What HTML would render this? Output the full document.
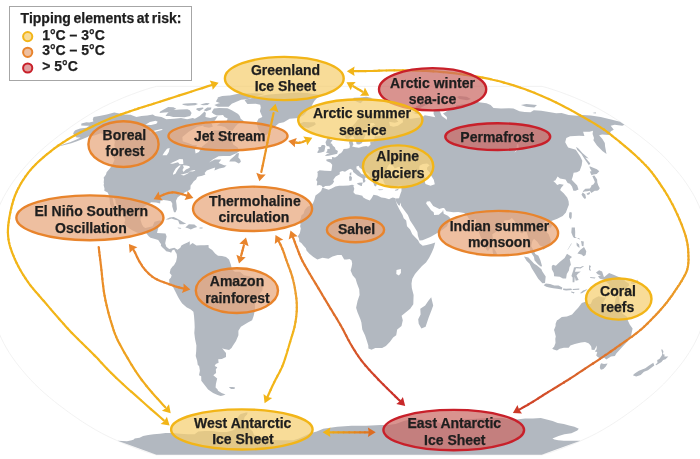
<!DOCTYPE html>
<html><head><meta charset="utf-8"><style>
html,body{margin:0;padding:0;background:#fff;width:700px;height:459px;overflow:hidden}
svg{position:absolute;left:0;top:0;display:block;will-change:transform}
.lb{font-family:"Liberation Sans",sans-serif;font-weight:bold;font-size:14px;fill:#1e1e1e;stroke:#1e1e1e;stroke-width:0.25px}
.lg{font-family:"Liberation Sans",sans-serif;font-weight:bold;font-size:14px;fill:#1e1e1e;stroke:#1e1e1e;stroke-width:0.25px}
.lt{word-spacing:-1.3px}
</style></head><body>
<svg width="700" height="459" viewBox="0 0 700 459">
<defs></defs>
<path d="M542.0,454.8 L547.3,453.4 L553.2,451.5 L559.8,449.2 L566.8,446.5 L574.2,443.6 L581.9,440.3 L589.4,436.9 L596.5,433.3 L603.2,429.6 L609.5,425.8 L615.5,422.0 L621.5,418.0 L627.2,414.0 L632.9,409.9 L638.5,405.7 L643.8,401.5 L649.1,397.2 L654.1,392.9 L659.0,388.5 L663.6,384.1 L667.8,379.7 L671.8,375.2 L675.7,370.7 L679.5,366.1 L683.0,361.6 L686.2,357.0 L689.2,352.5 L692.0,347.9 L694.6,343.3 L696.9,338.7 L699.0,334.1 L700.8,329.5 L702.4,324.9 L703.7,320.3 L705.0,315.7 L706.2,311.1 L707.3,306.5 L708.2,301.9 L709.1,297.3 L709.7,292.7 L710.3,288.1 L710.7,283.4 L711.0,278.8 L711.3,274.1 L711.4,269.3 L711.3,264.8 L711.0,260.3 L710.7,255.7 L710.3,251.2 L709.7,246.7 L709.1,242.1 L708.2,237.6 L707.3,233.0 L706.2,228.5 L705.0,224.0 L703.7,219.4 L702.4,214.9 L700.8,210.3 L699.0,205.8 L696.9,201.3 L694.6,196.7 L692.0,192.2 L689.2,187.7 L686.2,183.1 L683.0,178.6 L679.5,174.1 L675.7,169.6 L671.8,165.2 L667.8,160.7 L663.6,156.3 L659.0,152.0 L654.1,147.6 L649.1,143.3 L643.8,139.1 L638.5,134.9 L632.9,130.8 L627.2,126.7 L621.5,122.7 L615.5,118.8 L609.5,115.0 L603.2,111.3 L596.5,107.6 L589.4,104.1 L581.9,100.7 L574.2,97.4 L566.8,94.5 L559.8,91.9 L553.2,89.7 L547.3,87.8 L542.0,86.4 L156.4,86.4 L151.1,87.8 L145.1,89.7 L138.6,91.9 L131.5,94.5 L124.1,97.4 L116.5,100.7 L109.0,104.1 L101.8,107.6 L95.2,111.3 L88.9,115.0 L82.8,118.8 L76.9,122.7 L71.1,126.7 L65.5,130.8 L59.9,134.9 L54.5,139.1 L49.3,143.3 L44.2,147.6 L39.4,152.0 L34.8,156.3 L30.6,160.7 L26.5,165.2 L22.6,169.6 L18.9,174.1 L15.4,178.6 L12.1,183.1 L9.1,187.7 L6.4,192.2 L3.8,196.7 L1.5,201.3 L-0.6,205.8 L-2.4,210.3 L-4.0,214.9 L-5.3,219.4 L-6.6,224.0 L-7.8,228.5 L-8.9,233.0 L-9.9,237.6 L-10.7,242.1 L-11.4,246.7 L-11.9,251.2 L-12.3,255.7 L-12.7,260.3 L-12.9,264.8 L-13.0,269.3 L-12.9,274.1 L-12.7,278.8 L-12.3,283.4 L-11.9,288.1 L-11.4,292.7 L-10.7,297.3 L-9.9,301.9 L-8.9,306.5 L-7.8,311.1 L-6.6,315.7 L-5.3,320.3 L-4.0,324.9 L-2.4,329.5 L-0.6,334.1 L1.5,338.7 L3.8,343.3 L6.4,347.9 L9.1,352.5 L12.1,357.0 L15.4,361.6 L18.9,366.1 L22.6,370.7 L26.5,375.2 L30.6,379.7 L34.8,384.1 L39.4,388.5 L44.2,392.9 L49.3,397.2 L54.5,401.5 L59.9,405.7 L65.5,409.9 L71.1,414.0 L76.9,418.0 L82.8,422.0 L88.9,425.8 L95.2,429.6 L101.8,433.3 L109.0,436.9 L116.5,440.3 L124.1,443.6 L131.5,446.5 L138.6,449.2 L145.1,451.5 L151.1,453.4 L156.4,454.8Z" fill="#ffffff" stroke="#efefef" stroke-width="0.8"/>
<path d="M81.4,123.5 L86.4,122.2 L89.2,122.5 L93.4,121.6 L92.8,119.4 L93.6,117.1 L99.4,116.1 L106.7,114.4 L114.2,112.6 L119.6,113.5 L124.0,114.4 L130.7,114.8 L132.5,115.6 L136.4,117.1 L141.5,115.9 L147.3,115.4 L152.8,114.4 L155.1,116.1 L161.5,116.9 L166.3,119.2 L174.1,118.8 L181.0,117.9 L187.1,119.2 L192.8,117.9 L194.8,118.8 L199.7,115.9 L204.5,111.6 L205.9,113.1 L205.4,116.9 L210.4,117.9 L217.8,115.9 L214.8,120.8 L207.3,121.8 L202.7,125.7 L197.3,126.7 L188.7,131.8 L182.4,137.0 L182.7,141.2 L188.7,143.3 L192.7,145.1 L197.1,145.3 L195.0,149.8 L195.6,153.5 L198.9,152.0 L202.2,146.6 L207.7,142.3 L208.6,138.1 L212.0,133.9 L213.6,130.2 L219.7,130.4 L223.0,132.9 L223.0,137.0 L225.7,138.1 L231.4,134.9 L231.9,140.2 L233.2,144.4 L237.7,147.6 L239.3,151.3 L236.3,153.3 L230.1,155.9 L223.1,155.9 L218.6,156.3 L212.8,159.6 L209.0,162.5 L214.7,159.4 L221.3,159.6 L218.6,163.0 L224.1,165.2 L226.6,165.6 L224.2,167.4 L219.3,168.5 L214.4,170.5 L215.2,167.4 L212.1,168.5 L206.8,170.5 L204.6,173.0 L205.4,174.6 L202.2,175.7 L197.6,176.8 L197.0,177.5 L196.1,179.5 L193.8,181.3 L191.7,184.3 L190.6,185.6 L190.4,189.2 L188.1,190.8 L184.7,192.6 L181.7,194.5 L177.7,197.2 L176.0,200.8 L176.6,205.1 L176.9,209.2 L175.6,212.2 L174.0,212.2 L173.3,209.9 L172.2,206.3 L172.3,203.5 L170.9,201.3 L167.3,200.4 L163.5,200.1 L160.4,200.8 L160.1,203.5 L156.1,202.4 L151.3,202.2 L147.9,204.2 L143.7,206.9 L142.6,210.8 L141.4,214.9 L140.4,219.4 L142.0,224.4 L143.6,226.9 L145.4,228.0 L149.5,227.1 L152.6,226.2 L154.1,222.8 L154.6,221.7 L159.3,220.6 L161.6,221.0 L159.7,225.1 L158.3,227.8 L157.0,233.0 L161.6,233.3 L165.5,233.5 L166.6,236.4 L165.2,243.2 L166.3,246.7 L169.2,248.9 L172.2,248.2 L174.3,247.8 L177.5,249.8 L180.3,247.8 L181.4,245.5 L184.1,243.9 L187.6,242.6 L189.7,241.2 L189.9,244.4 L189.2,245.5 L192.6,243.0 L196.4,245.5 L200.4,245.3 L204.4,245.3 L208.5,245.1 L208.7,247.8 L212.2,250.1 L215.1,253.5 L218.0,255.7 L222.0,256.0 L226.0,256.9 L229.0,259.6 L230.9,264.8 L231.9,269.3 L234.9,271.8 L239.9,271.8 L244.0,275.3 L249.0,276.2 L254.1,277.6 L258.2,281.1 L261.8,282.3 L262.7,286.9 L262.4,290.4 L259.5,293.9 L256.7,299.2 L255.0,304.2 L254.9,310.0 L253.7,315.7 L252.1,320.3 L247.9,322.6 L244.6,324.5 L240.9,326.8 L238.4,330.7 L238.4,335.3 L236.0,341.0 L233.0,345.6 L231.5,347.9 L229.1,349.9 L224.1,349.0 L222.1,348.3 L226.0,353.1 L226.0,357.0 L221.8,359.1 L218.2,359.3 L218.6,362.7 L215.8,363.9 L214.7,366.1 L217.3,367.3 L215.8,369.5 L216.1,372.9 L213.3,375.2 L217.2,378.5 L215.9,384.1 L215.6,387.4 L217.6,389.4 L218.0,390.7 L221.6,392.9 L225.5,394.6 L222.9,395.5 L220.7,396.1 L217.6,395.1 L213.1,392.9 L208.1,389.6 L205.6,386.3 L201.3,380.8 L201.2,376.3 L199.0,375.2 L199.9,370.7 L199.1,366.1 L197.8,365.0 L197.1,360.5 L195.7,355.9 L196.2,351.3 L196.4,345.6 L195.0,338.7 L194.3,333.0 L194.7,327.2 L194.5,322.6 L194.0,315.7 L193.4,311.8 L190.8,309.5 L186.5,307.2 L182.2,303.5 L180.3,300.8 L178.2,297.3 L175.3,291.5 L173.0,286.9 L169.4,283.4 L169.1,279.5 L171.0,277.4 L171.6,275.3 L169.7,273.0 L170.5,269.3 L172.5,266.6 L174.0,265.3 L176.1,261.4 L177.0,256.9 L176.7,253.9 L175.6,252.3 L174.2,249.4 L172.1,250.5 L171.2,252.8 L169.6,251.9 L166.2,251.2 L164.9,249.8 L161.9,247.1 L160.8,245.5 L161.1,244.2 L158.2,240.1 L155.0,238.9 L150.5,237.8 L148.7,236.2 L146.1,233.0 L143.3,232.8 L140.6,233.7 L136.8,232.4 L132.2,230.3 L129.5,228.5 L125.9,225.8 L124.2,223.1 L125.2,220.6 L124.9,218.3 L123.6,216.7 L121.5,212.6 L119.6,209.7 L118.0,206.3 L115.7,203.5 L115.4,199.7 L112.9,197.4 L112.7,199.0 L113.5,202.4 L114.4,205.8 L115.5,209.2 L116.3,213.8 L116.8,217.4 L115.1,214.9 L113.2,213.1 L112.9,209.2 L111.0,206.3 L110.1,204.0 L109.7,200.6 L109.3,197.4 L109.0,195.6 L107.7,192.6 L104.3,190.8 L104.5,188.6 L103.6,184.9 L104.0,183.6 L103.7,182.5 L104.0,179.1 L103.6,177.7 L106.0,174.6 L106.6,172.3 L110.0,168.3 L112.5,164.5 L114.4,159.9 L115.5,156.3 L113.4,154.6 L114.6,152.0 L114.9,147.6 L114.3,145.5 L114.8,142.3 L114.2,138.7 L113.1,137.4 L111.0,135.5 L107.7,134.9 L103.5,134.3 L100.7,133.3 L95.1,135.3 L90.7,136.4 L93.6,133.5 L87.5,137.0 L82.7,139.1 L77.0,141.2 L71.3,143.3 L65.4,144.8 L60.6,146.1 L56.9,146.8 L63.6,144.2 L70.0,142.3 L76.5,139.5 L80.6,137.4 L76.5,137.4 L75.0,135.3 L73.1,133.9 L73.9,131.8 L75.3,130.2 L80.1,128.4 L86.3,127.7 L89.3,125.7 L85.9,125.7 L81.2,125.5Z M244.1,121.2 L238.0,123.7 L235.2,126.7 L232.4,130.8 L228.0,129.8 L224.9,127.1 L221.0,125.9 L216.7,125.5 L220.9,122.7 L226.8,120.8 L227.7,118.4 L224.4,116.9 L223.0,115.0 L216.9,115.4 L213.6,114.1 L211.7,112.2 L213.9,108.5 L219.3,108.0 L227.4,108.2 L231.3,110.0 L235.2,112.2 L238.1,114.1 L239.7,115.9 L240.7,118.8Z M168.2,112.4 L173.3,110.0 L180.0,109.6 L187.4,109.2 L189.8,110.2 L191.6,113.1 L190.2,115.9 L184.5,117.3 L178.8,117.1 L173.2,116.9 L169.6,116.1 L165.5,115.9 L166.9,114.1Z M160.2,111.4 L168.2,107.1 L173.4,107.3 L176.3,108.7 L168.4,112.2 L164.4,112.6 L159.5,113.1Z M231.7,103.7 L241.1,99.8 L246.9,99.2 L252.9,97.1 L261.3,94.9 L264.9,93.8 L256.1,93.2 L246.2,93.4 L236.9,94.1 L228.7,95.7 L223.2,97.4 L217.7,98.2 L215.9,101.5 L220.4,103.2 L226.8,103.4Z M228.7,106.7 L232.3,103.2 L227.5,102.7 L219.0,103.2 L214.3,104.9 L217.8,106.7Z M182.0,104.1 L183.4,104.9 L187.6,105.8 L195.0,105.3 L198.0,104.1 L195.4,103.0 L189.9,103.2 L185.4,103.5Z M196.2,109.4 L199.2,111.3 L203.5,108.5 L203.1,107.6 L196.8,108.3Z M203.7,110.3 L206.2,111.3 L210.9,109.4 L211.4,107.6 L207.2,107.6Z M203.1,105.3 L207.6,104.9 L209.8,103.2 L206.0,103.0 L200.2,104.4Z M225.3,98.2 L231.0,96.7 L229.1,95.4 L222.2,95.9 L217.5,97.4 L219.1,99.0Z M203.5,126.7 L209.0,127.7 L212.8,126.7 L211.9,123.7 L208.4,122.3 L203.5,124.7Z M244.6,100.2 L247.4,104.1 L255.7,103.7 L260.2,104.8 L260.8,107.6 L259.9,111.3 L261.1,114.1 L262.4,116.9 L258.5,118.8 L256.5,122.7 L257.6,126.7 L258.9,130.8 L261.8,133.3 L265.0,135.3 L266.8,134.7 L269.5,131.8 L273.4,127.7 L278.9,123.3 L283.8,122.3 L289.6,118.8 L298.7,117.9 L303.9,115.0 L306.2,112.2 L307.7,109.4 L311.3,106.7 L313.0,103.2 L314.5,100.7 L317.6,97.4 L323.2,95.2 L315.1,94.2 L307.3,92.9 L298.2,92.4 L289.6,92.9 L279.3,93.8 L269.0,94.5 L263.2,95.5 L258.8,96.2 L255.2,97.3 L248.7,98.7Z M299.3,123.7 L303.6,122.0 L309.5,122.3 L314.8,122.3 L315.9,124.3 L313.3,126.1 L308.3,127.9 L304.6,127.3 L301.5,127.1 L302.6,125.7 L299.8,124.9Z M229.2,161.6 L235.1,161.6 L238.9,163.6 L240.9,161.8 L240.2,159.6 L238.3,157.4 L239.0,153.1 L236.6,153.5 L234.4,155.9 L230.4,159.6Z M165.6,219.6 L169.7,217.4 L173.7,216.9 L176.4,218.3 L180.1,220.3 L183.8,222.4 L186.2,223.5 L183.5,224.2 L179.6,224.2 L178.1,220.6 L174.3,219.4 L171.5,218.5 L168.4,219.4Z M185.3,227.6 L188.9,224.2 L194.4,224.6 L197.2,227.1 L194.0,228.0 L190.8,229.4 L188.0,228.3Z M177.6,227.6 L181.5,228.0 L180.4,228.7 L178.1,228.3Z M199.6,227.4 L202.7,227.6 L202.4,228.5 L199.5,228.5Z M112.0,154.6 L116.0,155.7 L116.7,159.9 L114.7,159.4 L112.6,156.8Z M322.9,187.7 L321.7,185.8 L319.7,184.9 L316.8,185.4 L317.3,181.6 L316.1,180.0 L317.6,176.4 L317.7,173.0 L317.1,171.9 L319.6,170.3 L325.0,170.8 L330.4,171.0 L331.4,170.8 L332.1,166.3 L332.2,164.7 L330.5,162.7 L326.5,161.0 L326.3,159.6 L329.3,159.0 L332.1,159.2 L331.9,157.0 L335.0,157.4 L337.5,155.9 L339.1,153.9 L341.1,153.1 L342.7,150.9 L343.6,149.1 L347.0,148.7 L349.5,148.1 L349.9,145.5 L348.9,142.3 L349.7,141.0 L352.8,139.7 L352.7,142.3 L353.4,144.4 L352.1,146.6 L355.4,147.2 L358.9,147.8 L363.0,146.6 L366.4,145.9 L368.1,146.8 L370.5,144.8 L370.2,141.6 L373.5,141.2 L375.5,140.2 L374.0,138.1 L375.4,136.2 L381.0,136.0 L384.4,135.1 L381.5,133.9 L376.8,134.3 L372.0,134.9 L370.1,131.8 L369.3,128.8 L372.5,125.7 L375.2,124.7 L373.7,123.1 L370.7,123.1 L369.0,125.5 L366.6,127.7 L364.4,129.8 L363.5,132.9 L365.7,134.5 L364.9,136.4 L362.7,141.2 L362.0,142.9 L359.2,144.4 L356.7,144.2 L356.2,142.3 L354.9,139.7 L353.9,137.2 L352.7,136.0 L351.1,137.0 L348.7,138.9 L346.2,138.9 L344.8,137.0 L343.9,133.9 L344.0,131.0 L346.4,129.6 L349.5,127.7 L352.6,125.7 L355.5,122.7 L357.7,119.8 L359.8,117.9 L363.3,115.6 L367.5,114.6 L371.6,113.1 L374.2,112.9 L377.3,113.1 L381.9,114.4 L385.2,116.1 L389.7,116.9 L396.2,119.2 L398.4,121.8 L394.9,122.7 L389.1,121.8 L389.9,125.7 L393.5,126.7 L397.9,125.7 L403.0,122.2 L402.5,118.1 L410.9,118.8 L416.4,117.9 L422.1,117.3 L424.8,115.2 L430.4,116.3 L435.3,117.3 L433.6,114.1 L433.7,109.8 L436.3,109.1 L439.8,111.3 L441.8,115.9 L447.0,119.8 L446.8,116.9 L443.0,113.5 L445.3,112.2 L447.7,110.5 L449.4,108.3 L456.0,107.6 L455.8,105.8 L461.4,104.6 L466.0,103.9 L470.6,103.2 L473.9,101.2 L478.9,102.3 L486.5,103.2 L490.6,104.9 L493.5,108.0 L501.0,108.5 L509.1,108.3 L513.4,108.5 L519.5,111.3 L524.6,112.0 L530.5,112.2 L533.8,110.3 L541.3,110.7 L550.4,112.2 L556.2,113.3 L561.6,113.1 L568.6,115.0 L576.9,115.8 L583.0,115.0 L590.8,115.4 L600.7,117.1 L612.1,119.8 L620.0,121.8 L624.4,124.7 L622.3,125.7 L614.7,124.7 L610.7,125.7 L613.8,129.8 L610.9,131.2 L609.0,134.9 L602.1,134.5 L599.1,135.3 L602.4,139.1 L604.8,142.9 L605.1,146.6 L605.7,149.8 L606.5,154.1 L602.4,150.9 L597.0,145.5 L593.4,140.2 L594.0,138.1 L592.6,133.9 L593.0,130.8 L589.5,131.8 L583.1,131.8 L584.4,136.0 L579.1,135.8 L570.1,136.2 L566.3,138.1 L565.2,142.3 L568.1,147.6 L575.8,149.8 L580.1,156.3 L582.3,160.7 L581.7,165.2 L579.7,170.8 L577.0,172.3 L573.6,172.8 L572.8,176.4 L571.7,179.7 L577.2,185.4 L578.5,189.5 L575.7,190.8 L573.4,190.8 L572.0,186.5 L569.9,183.8 L567.7,183.1 L565.5,179.5 L560.0,178.6 L557.6,176.6 L555.3,180.4 L553.3,180.9 L555.5,183.1 L557.2,184.9 L559.7,184.0 L563.7,184.7 L561.2,187.7 L560.1,189.9 L563.7,193.3 L567.2,197.4 L568.6,201.3 L568.9,204.7 L567.1,209.2 L565.9,212.6 L562.7,216.0 L557.3,218.7 L552.6,220.6 L549.9,221.7 L550.9,223.3 L548.7,220.6 L545.7,220.6 L543.2,223.5 L542.2,226.2 L544.1,229.6 L548.7,234.2 L550.7,239.8 L550.6,243.2 L547.8,245.5 L546.0,247.8 L543.1,249.8 L542.9,246.7 L539.8,245.5 L537.5,242.1 L534.0,238.7 L532.4,241.0 L531.2,246.2 L533.7,250.5 L535.3,253.9 L538.4,255.7 L540.4,260.3 L542.1,266.2 L540.7,266.4 L537.7,264.1 L534.5,260.3 L534.0,256.9 L530.1,251.2 L529.5,246.7 L529.7,242.1 L526.7,231.9 L524.4,231.2 L522.1,233.5 L520.2,232.6 L520.0,227.4 L516.6,224.0 L514.2,220.6 L511.9,218.1 L509.2,219.9 L504.3,220.6 L503.8,224.0 L501.0,225.5 L498.3,228.5 L496.1,231.7 L492.3,234.2 L493.0,239.6 L492.3,244.4 L491.4,246.0 L489.3,249.1 L488.0,251.0 L485.9,248.9 L484.2,243.2 L482.0,239.8 L479.6,234.2 L477.1,226.5 L476.3,221.7 L475.8,219.0 L471.0,222.1 L468.7,218.5 L467.4,216.0 L464.2,213.1 L458.2,211.9 L453.3,212.2 L446.4,211.3 L444.1,208.1 L442.7,207.9 L439.3,209.0 L433.2,206.0 L429.9,201.3 L426.9,201.5 L426.1,203.5 L429.5,208.1 L431.0,210.3 L433.7,212.2 L434.1,214.9 L438.8,214.7 L442.5,211.5 L443.1,209.7 L443.7,213.8 L447.8,215.8 L450.5,218.3 L448.3,222.8 L447.0,226.2 L442.9,229.6 L436.5,233.5 L430.4,237.1 L422.5,240.3 L419.5,240.5 L417.9,235.8 L417.4,231.9 L413.9,226.2 L410.1,220.6 L407.9,214.9 L404.3,210.3 L401.1,205.8 L400.8,202.4 L399.5,205.8 L398.3,205.1 L396.1,201.5 L395.6,198.5 L399.0,198.3 L400.2,194.5 L401.5,191.1 L401.5,187.7 L401.7,185.8 L398.5,185.8 L394.9,187.4 L391.0,186.5 L386.3,185.8 L384.2,183.1 L383.0,179.7 L382.3,177.9 L381.9,176.8 L378.2,176.8 L376.4,177.9 L375.6,177.5 L376.4,180.2 L378.6,182.7 L376.8,184.3 L376.0,186.5 L374.4,185.8 L373.6,183.6 L372.9,182.0 L371.3,179.7 L369.9,177.5 L369.6,174.6 L367.9,173.0 L365.0,171.4 L361.7,169.2 L359.5,167.4 L358.7,165.8 L356.4,166.5 L356.6,169.0 L358.8,170.8 L361.5,174.1 L363.7,174.6 L367.1,177.3 L368.1,178.4 L365.5,177.5 L364.6,179.1 L365.6,180.9 L363.8,183.1 L363.0,182.0 L362.7,178.6 L360.5,177.3 L357.8,175.7 L355.1,173.4 L353.2,171.9 L352.6,169.9 L350.1,168.7 L347.7,170.1 L345.0,171.7 L342.3,171.0 L339.7,171.9 L339.8,174.3 L335.7,176.4 L334.2,178.6 L333.2,180.0 L334.1,181.6 L332.5,184.0 L329.8,185.8 L325.3,186.1Z M395.4,198.3 L392.8,197.6 L390.9,198.3 L389.1,199.2 L385.1,198.1 L381.3,197.6 L377.3,195.6 L373.5,194.7 L371.7,197.9 L369.8,200.6 L365.9,199.0 L363.0,197.2 L362.4,195.8 L358.2,194.7 L355.3,194.2 L353.4,192.2 L354.3,188.8 L353.3,185.8 L354.5,185.2 L352.0,184.7 L348.6,185.6 L343.0,185.8 L339.2,185.8 L335.4,186.5 L331.6,188.6 L328.7,189.7 L323.5,187.9 L322.2,188.1 L321.1,191.1 L318.9,193.1 L315.5,195.6 L314.3,200.1 L312.8,203.5 L309.7,205.8 L307.4,206.7 L304.7,209.9 L303.5,213.8 L301.5,215.3 L300.8,218.3 L299.3,221.7 L300.6,224.0 L300.1,226.2 L300.8,228.5 L299.9,233.0 L298.4,235.5 L297.8,236.0 L299.1,238.7 L299.2,241.4 L301.6,243.2 L303.1,245.3 L305.9,248.2 L306.5,250.5 L309.4,253.7 L313.4,256.9 L317.4,259.4 L322.5,257.8 L328.5,258.7 L332.5,256.4 L337.5,255.0 L341.6,255.0 L344.2,259.6 L346.6,259.4 L349.6,258.9 L351.6,260.5 L352.2,263.7 L351.6,267.1 L350.6,270.6 L352.6,275.3 L355.6,278.8 L357.0,283.4 L359.2,289.2 L359.6,295.0 L357.6,300.8 L356.1,307.7 L357.5,312.3 L360.4,319.2 L361.4,322.6 L362.3,329.5 L365.1,335.5 L366.9,341.0 L368.3,345.6 L368.4,348.6 L370.5,349.3 L371.4,349.7 L375.3,347.9 L382.1,347.9 L385.9,346.0 L390.0,341.7 L393.1,337.6 L396.2,335.3 L397.2,329.5 L401.5,326.1 L402.8,320.3 L401.6,315.7 L405.0,313.0 L410.2,308.8 L413.3,304.2 L413.6,295.0 L411.8,288.1 L411.5,283.4 L412.3,278.8 L415.0,274.1 L418.0,270.6 L422.0,265.9 L426.0,262.5 L429.0,258.0 L431.9,252.3 L433.8,247.8 L435.2,242.6 L431.6,243.7 L426.7,245.1 L422.7,245.7 L419.6,243.2 L418.1,240.3 L415.4,237.6 L412.3,234.2 L410.1,229.6 L407.0,226.2 L406.2,220.6 L403.7,218.3 L402.6,214.9 L399.3,209.2 L397.1,204.7 L395.9,201.3Z M431.2,297.3 L433.2,305.4 L431.6,310.0 L428.5,318.0 L425.6,326.8 L421.4,328.4 L418.7,323.8 L418.2,319.2 L420.6,314.6 L420.3,308.8 L425.2,305.4 L428.4,300.8Z M492.6,247.1 L495.0,250.1 L496.9,253.5 L496.2,255.5 L494.2,256.0 L492.9,253.5 L492.6,250.5Z M324.8,156.1 L328.6,155.7 L333.0,154.8 L337.2,153.7 L337.9,150.9 L335.5,149.4 L335.0,147.6 L332.7,145.5 L332.0,143.8 L330.4,143.3 L332.0,141.0 L332.6,139.9 L329.8,139.7 L330.8,137.8 L327.5,137.8 L326.5,140.2 L325.5,142.3 L326.1,144.4 L326.8,145.9 L329.3,146.6 L330.0,148.7 L327.4,149.1 L327.2,151.3 L325.7,152.4 L327.9,153.1 L329.7,153.3 L327.0,154.1Z M324.3,151.5 L324.9,148.7 L325.4,146.3 L324.4,145.1 L321.8,145.1 L320.8,147.0 L318.2,147.2 L318.8,149.8 L317.1,152.4 L318.4,153.1 L321.1,152.4Z M356.9,183.6 L358.9,182.7 L362.8,182.5 L362.0,184.7 L362.0,186.1 L360.5,185.8 L357.6,184.3Z M349.4,180.9 L351.6,180.4 L352.0,177.5 L350.8,175.9 L349.0,176.6Z M349.7,175.5 L351.2,175.2 L351.4,172.3 L349.7,173.0Z M378.0,189.2 L383.3,189.5 L382.8,189.9 L379.0,190.2Z M394.7,189.9 L399.0,188.6 L397.8,190.2 L395.6,190.8Z M352.7,99.8 L358.0,102.3 L360.7,103.2 L363.0,100.7 L366.8,100.0 L372.8,98.2 L366.2,96.7 L360.1,97.4 L353.8,97.8Z M411.2,112.2 L416.2,113.9 L419.7,113.7 L416.1,110.3 L415.6,106.7 L420.9,104.1 L427.6,102.3 L429.6,103.2 L424.6,105.8 L419.3,108.5 L417.2,111.3 L414.3,112.7Z M459.4,99.0 L467.1,100.2 L470.9,99.0 L466.6,96.7 L459.5,95.9 L457.0,97.0Z M520.9,104.9 L526.3,104.1 L537.0,104.9 L534.3,107.6 L526.2,106.7Z M592.4,113.1 L595.8,112.2 L595.8,113.5Z M582.7,192.2 L584.5,191.5 L587.3,191.3 L589.9,190.8 L591.2,192.9 L593.6,191.5 L594.7,190.8 L597.1,190.8 L598.6,189.9 L599.8,188.3 L598.3,185.6 L597.3,182.5 L597.1,179.5 L594.4,175.5 L592.3,175.9 L593.4,178.6 L594.9,182.0 L593.6,184.3 L591.3,185.4 L591.2,186.5 L589.9,188.6 L585.3,188.8 L583.3,190.8Z M591.5,175.2 L593.3,174.6 L596.7,174.1 L599.3,171.2 L596.9,169.2 L589.6,166.3 L589.6,167.4 L591.6,171.2 L589.8,171.4Z M581.5,194.5 L582.8,192.4 L585.3,194.5 L586.0,197.9 L584.9,199.0 L583.3,197.4 L581.7,195.1Z M586.4,193.8 L589.8,192.0 L589.9,194.0 L587.8,194.9Z M588.9,165.2 L590.3,163.4 L585.3,157.4 L588.7,158.5 L582.4,153.1 L578.7,148.7 L576.0,146.8 L577.2,149.8 L581.4,154.1 L584.9,159.6 L588.1,164.1Z M569.7,211.9 L571.8,212.6 L571.7,217.2 L570.8,219.6 L569.0,217.2 L569.1,213.8Z M547.7,225.8 L550.2,223.7 L552.3,224.9 L550.8,227.8 L548.1,227.4Z M571.7,227.4 L574.9,227.4 L575.2,231.9 L575.1,236.9 L580.3,239.8 L579.0,238.0 L574.1,238.0 L572.9,236.4 L571.3,232.6Z M577.4,253.5 L580.2,250.1 L584.0,247.1 L586.3,251.2 L585.6,255.0 L583.6,256.2 L581.5,254.6Z M581.0,241.0 L583.8,241.4 L583.5,246.2 L581.9,246.0Z M576.6,242.6 L579.1,244.4 L579.6,247.8 L578.0,247.1 L576.6,245.3Z M567.6,250.3 L571.8,243.5 L571.2,243.5 L567.7,249.4Z M551.8,265.9 L553.0,264.8 L555.8,265.7 L559.7,262.1 L564.6,258.0 L567.0,253.7 L572.0,257.1 L569.7,259.1 L570.9,264.8 L569.5,267.1 L568.9,270.6 L566.8,274.1 L566.1,278.6 L562.9,278.6 L559.7,276.7 L556.7,276.5 L554.1,276.2 L553.8,273.0 L551.8,269.3Z M524.0,256.6 L528.4,257.5 L534.2,263.7 L536.7,265.3 L541.4,269.3 L542.5,271.8 L545.7,276.5 L545.0,283.0 L542.4,283.2 L538.2,278.8 L535.3,274.1 L531.7,268.2 L529.6,263.7 L526.5,260.7Z M543.7,285.3 L545.8,283.4 L550.0,284.1 L554.4,285.5 L558.6,285.5 L562.3,287.4 L561.9,289.5 L557.2,288.8 L553.2,288.3 L549.2,287.6 L546.3,286.7Z M572.6,282.3 L572.6,277.6 L571.4,276.0 L573.6,269.3 L573.9,267.5 L576.9,267.1 L580.0,267.3 L583.0,265.9 L584.0,266.2 L580.6,268.4 L576.0,268.2 L574.9,271.8 L576.9,271.8 L580.8,271.5 L577.9,273.7 L576.5,275.5 L578.7,280.0 L575.7,280.7 L574.8,276.5 L574.4,282.3Z M589.0,265.3 L591.0,265.9 L590.0,268.2 L591.0,271.1 L589.0,270.1Z M589.9,276.9 L595.5,277.4 L594.9,278.6 L590.5,277.9Z M596.0,272.5 L599.1,270.3 L602.1,271.5 L604.0,277.2 L609.1,273.0 L614.1,275.1 L618.1,276.7 L623.0,278.6 L625.5,281.6 L628.8,283.4 L629.2,285.5 L626.5,287.4 L629.7,289.2 L632.1,291.5 L633.9,293.9 L630.9,293.4 L627.0,292.7 L623.4,287.8 L620.4,288.5 L618.2,290.9 L615.2,290.6 L611.4,288.3 L609.3,288.8 L609.2,284.6 L603.9,279.7 L599.9,278.8 L598.0,276.2 L601.0,275.3 L598.0,274.6Z M630.9,282.3 L634.9,282.3 L638.0,279.5 L636.9,282.3 L633.7,284.1 L630.8,283.4Z M557.0,320.3 L557.8,319.9 L561.8,317.1 L566.9,316.4 L572.1,314.6 L575.1,311.1 L578.2,307.7 L581.8,303.1 L586.0,301.5 L588.1,304.2 L590.7,304.0 L592.7,299.4 L595.5,297.8 L598.6,296.2 L602.5,297.3 L606.0,297.8 L604.1,300.8 L602.6,304.2 L606.1,307.0 L609.2,309.8 L612.2,309.8 L614.5,304.2 L615.6,298.5 L617.8,294.3 L619.4,298.5 L619.4,302.4 L622.1,304.2 L621.8,308.4 L622.4,313.4 L626.7,316.4 L628.1,321.0 L629.7,324.5 L632.6,328.4 L631.1,335.5 L627.8,341.0 L621.8,347.4 L616.3,353.6 L614.9,355.9 L611.0,356.6 L606.3,359.5 L604.3,357.7 L601.4,358.9 L597.7,357.0 L596.2,355.4 L597.3,352.0 L594.8,351.5 L596.6,349.3 L596.8,345.6 L594.4,349.9 L591.6,349.7 L591.3,346.7 L590.2,344.9 L588.5,343.3 L585.0,342.1 L581.0,342.6 L574.8,344.0 L570.4,345.6 L568.7,347.7 L563.9,347.7 L559.7,348.8 L557.0,350.4 L553.6,349.5 L552.2,348.6 L554.1,346.7 L555.5,343.1 L555.3,338.7 L555.8,336.4 L554.4,330.9 L554.0,330.0 L555.6,326.1 L555.6,323.8Z M601.1,363.2 L604.0,364.1 L607.6,363.6 L605.8,366.6 L603.4,368.9 L601.0,369.8 L599.8,368.0 L600.2,365.0Z M661.8,348.8 L663.4,351.3 L663.0,354.3 L664.6,354.5 L664.4,356.6 L668.3,356.4 L665.5,359.3 L663.1,360.0 L661.5,362.1 L656.1,365.2 L655.5,364.6 L657.5,362.7 L657.2,360.0 L659.4,358.9 L661.8,355.4 L662.3,353.4 L661.4,350.6Z M653.3,362.7 L654.3,365.5 L651.0,368.0 L648.0,370.2 L644.0,371.8 L640.7,375.0 L636.2,376.5 L632.8,375.2 L634.7,373.4 L638.9,370.7 L645.3,368.2 L649.1,365.5Z M228.8,387.0 L232.8,387.0 L235.1,387.6 L234.4,389.0 L231.0,389.0Z M117.7,440.8 L127.0,441.2 L131.7,440.3 L133.8,439.5 L134.7,438.6 L139.6,437.7 L143.1,436.0 L148.3,435.1 L153.7,434.2 L159.9,433.8 L165.5,432.9 L172.4,432.9 L180.2,433.7 L187.8,434.2 L194.6,434.2 L198.3,431.5 L204.9,431.1 L211.9,431.1 L219.8,432.0 L226.7,432.0 L232.4,430.5 L235.2,428.7 L236.0,425.8 L236.3,422.0 L236.7,419.0 L238.7,416.0 L240.6,414.0 L246.0,412.6 L247.6,412.6 L247.1,414.6 L244.6,417.0 L244.0,420.0 L244.1,423.9 L248.7,427.7 L252.7,431.5 L254.0,435.1 L257.3,436.0 L266.0,438.6 L273.6,440.0 L280.3,440.3 L286.8,440.3 L293.2,440.3 L298.9,438.6 L304.4,436.0 L310.3,433.3 L316.7,431.5 L323.2,428.7 L330.2,427.7 L337.3,426.8 L351.6,425.8 L366.1,425.8 L380.8,424.9 L388.0,424.9 L395.6,423.9 L403.8,421.0 L411.9,419.0 L419.4,419.0 L426.4,420.4 L433.6,421.0 L440.0,422.9 L441.8,424.9 L446.2,424.9 L451.7,422.9 L455.9,421.0 L464.2,419.6 L472.1,419.0 L480.1,418.4 L487.9,418.0 L495.5,418.0 L503.0,418.0 L509.2,419.6 L516.7,419.6 L525.1,418.6 L532.9,418.4 L540.8,418.0 L546.7,419.6 L552.6,421.0 L557.7,422.9 L563.8,423.9 L569.1,425.5 L574.4,426.8 L578.8,428.7 L577.3,430.5 L571.4,433.3 L564.4,434.2 L558.6,436.0 L552.4,438.6 L554.4,439.6 L558.2,440.3 L564.0,440.7 L570.0,440.8 L580.4,440.8 L541.7,454.8 L156.4,454.8Z M563.2,288.5 L566.2,288.8 L571.2,288.5 L572.1,289.9 L566.1,290.4 L563.1,289.9Z M572.8,289.0 L579.3,288.5 L579.2,289.7 L572.7,289.9Z M579.9,293.2 L583.1,290.4 L587.6,289.0 L586.1,290.4 L581.9,293.2Z M571.0,291.5 L574.6,292.2 L573.9,293.4 L571.3,292.5Z" fill="#b2b8c0"/>
<path d="M385.4,175.0 L386.1,170.8 L387.4,167.0 L389.4,164.1 L392.6,165.2 L394.8,168.5 L398.2,167.0 L401.9,167.8 L406.0,170.8 L410.2,175.0 L404.0,176.4 L398.2,174.1 L391.9,175.9 L387.7,175.9Z M419.2,168.5 L419.6,165.8 L422.8,164.1 L427.1,163.4 L429.7,165.2 L427.1,167.4 L427.0,169.6 L430.1,173.0 L431.7,176.4 L433.8,179.7 L434.8,184.3 L430.5,185.8 L425.5,184.0 L424.7,181.3 L425.5,178.2 L423.0,174.6 L420.7,171.9Z M170.0,163.6 L176.1,160.7 L179.6,159.0 L183.0,159.2 L183.3,163.0 L183.4,164.1 L179.7,164.3 L178.0,162.3 L172.7,163.8Z M172.9,174.1 L173.1,174.8 L175.4,173.7 L177.8,169.6 L180.8,165.6 L182.2,165.4 L179.2,165.4 L175.7,168.5 L173.7,171.9Z M182.8,165.2 L186.3,165.4 L189.5,166.3 L189.8,167.8 L185.9,169.6 L183.5,171.9 L182.5,170.1 L183.8,167.4Z M180.5,174.8 L185.6,173.4 L189.7,172.3 L187.8,173.4 L183.9,175.5Z M188.7,171.2 L194.4,169.9 L195.5,170.5 L192.8,171.4Z M162.5,155.2 L166.8,155.2 L168.8,152.0 L169.7,148.1 L167.0,148.7 L164.5,152.0Z M150.1,132.4 L155.5,131.8 L162.9,129.8 L161.3,129.0 L154.1,130.8 L150.1,131.6Z M145.4,124.7 L151.1,125.1 L156.4,123.7 L157.7,121.8 L155.7,120.8 L149.9,122.0Z M396.5,269.9 L400.9,268.9 L400.9,273.0 L398.9,275.5 L396.3,274.1Z M514.1,152.8 L516.1,151.3 L518.9,147.6 L518.2,144.0 L516.8,144.4 L516.6,149.4 L514.8,152.0Z" fill="#ffffff"/>
<path d="M352.6,71.2 L354.5,71.2 L356.5,71.1 L358.7,71.1" fill="none" stroke="#f2b518" stroke-width="2.2" stroke-linecap="round"/>
<path d="M358.7,71.1 L360.9,71.1 L363.2,71.1 L365.5,71.1" fill="none" stroke="#f2b518" stroke-width="2.2" stroke-linecap="round"/>
<path d="M365.5,71.1 L367.8,71.0 L370.0,71.0 L372.2,71.0" fill="none" stroke="#f2b518" stroke-width="2.2" stroke-linecap="round"/>
<path d="M372.2,71.0 L374.5,70.9 L376.8,70.8 L379.1,70.7" fill="none" stroke="#f2b518" stroke-width="2.2" stroke-linecap="round"/>
<path d="M379.1,70.7 L381.5,70.6 L383.9,70.5 L386.4,70.5" fill="none" stroke="#f2b518" stroke-width="2.2" stroke-linecap="round"/>
<path d="M386.4,70.5 L389.0,70.4 L391.6,70.3 L394.3,70.3" fill="none" stroke="#f2b518" stroke-width="2.2" stroke-linecap="round"/>
<path d="M394.3,70.3 L397.1,70.3 L400.0,70.3 L403.0,70.3" fill="none" stroke="#f2b518" stroke-width="2.2" stroke-linecap="round"/>
<path d="M403.0,70.3 L406.1,70.4 L409.3,70.4 L412.6,70.5" fill="none" stroke="#f2b518" stroke-width="2.2" stroke-linecap="round"/>
<path d="M412.6,70.5 L416.0,70.6 L419.4,70.7 L422.8,70.8" fill="none" stroke="#f2b518" stroke-width="2.2" stroke-linecap="round"/>
<path d="M422.8,70.8 L426.3,70.9 L429.8,71.1 L433.2,71.3" fill="none" stroke="#f2b518" stroke-width="2.2" stroke-linecap="round"/>
<path d="M433.2,71.3 L436.6,71.5 L440.0,71.8 L443.4,72.1" fill="none" stroke="#f2b518" stroke-width="2.2" stroke-linecap="round"/>
<path d="M443.4,72.1 L446.8,72.4 L450.3,72.8 L453.8,73.2" fill="none" stroke="#f2b518" stroke-width="2.2" stroke-linecap="round"/>
<path d="M453.8,73.2 L457.2,73.7 L460.7,74.1 L464.1,74.6" fill="none" stroke="#f2b518" stroke-width="2.2" stroke-linecap="round"/>
<path d="M464.1,74.6 L467.5,75.1 L470.8,75.6 L474.0,76.1" fill="none" stroke="#f2b518" stroke-width="2.2" stroke-linecap="round"/>
<path d="M474.0,76.1 L477.1,76.6 L480.0,77.1 L482.8,77.6" fill="none" stroke="#f2b518" stroke-width="2.2" stroke-linecap="round"/>
<path d="M482.8,77.6 L485.4,78.1 L488.0,78.6 L490.4,79.1" fill="none" stroke="#f2b518" stroke-width="2.2" stroke-linecap="round"/>
<path d="M490.4,79.1 L492.7,79.7 L495.0,80.2 L497.3,80.8" fill="none" stroke="#f2b518" stroke-width="2.2" stroke-linecap="round"/>
<path d="M497.3,80.8 L499.5,81.3 L501.7,81.9 L504.0,82.6" fill="none" stroke="#f2b518" stroke-width="2.2" stroke-linecap="round"/>
<path d="M504.0,82.6 L506.3,83.2 L508.6,83.9 L511.0,84.6 L513.4,85.3" fill="none" stroke="#f2b518" stroke-width="2.2" stroke-linecap="round"/>
<path d="M513.4,85.3 L515.7,86.1 L518.1,86.9 L520.5,87.7" fill="none" stroke="#f2b518" stroke-width="2.2" stroke-linecap="round"/>
<path d="M520.5,87.7 L522.9,88.5 L525.2,89.3 L527.6,90.2" fill="none" stroke="#f2b518" stroke-width="2.2" stroke-linecap="round"/>
<path d="M527.6,90.2 L530.0,91.1 L532.3,92.0 L534.7,92.9" fill="none" stroke="#f2b518" stroke-width="2.2" stroke-linecap="round"/>
<path d="M534.7,92.9 L537.1,93.9 L539.5,94.9 L541.8,95.9" fill="none" stroke="#f2b518" stroke-width="2.2" stroke-linecap="round"/>
<path d="M541.8,95.9 L544.1,96.9 L546.4,97.9 L548.7,99.0" fill="none" stroke="#f2b518" stroke-width="2.2" stroke-linecap="round"/>
<path d="M548.7,99.0 L551.0,100.0 L553.4,101.2 L555.7,102.3" fill="none" stroke="#f2b518" stroke-width="2.2" stroke-linecap="round"/>
<path d="M555.7,102.3 L558.1,103.5 L560.6,104.8 L563.1,106.1" fill="none" stroke="#f2b518" stroke-width="2.2" stroke-linecap="round"/>
<path d="M563.1,106.1 L565.7,107.4 L568.4,108.8 L571.3,110.4" fill="none" stroke="#f2b518" stroke-width="2.2" stroke-linecap="round"/>
<path d="M571.3,110.4 L574.3,112.0 L577.3,113.7 L580.4,115.5" fill="none" stroke="#f2b518" stroke-width="2.2" stroke-linecap="round"/>
<path d="M580.4,115.5 L583.5,117.2 L586.6,119.0 L589.6,120.7" fill="none" stroke="#f2b518" stroke-width="2.2" stroke-linecap="round"/>
<path d="M589.6,120.7 L592.5,122.4 L595.2,124.0 L597.7,125.6" fill="none" stroke="#f2b518" stroke-width="2.2" stroke-linecap="round"/>
<path d="M597.7,125.6 L600.0,127.0 L602.0,128.3 L603.9,129.5" fill="none" stroke="#f2b518" stroke-width="2.2" stroke-linecap="round"/>
<path d="M603.9,129.5 L605.5,130.7 L607.1,131.8 L608.4,132.8" fill="none" stroke="#f2b518" stroke-width="2.2" stroke-linecap="round"/>
<path d="M608.4,132.8 L609.8,133.8 L611.0,134.8 L612.2,135.8" fill="none" stroke="#f2b518" stroke-width="2.2" stroke-linecap="round"/>
<path d="M612.2,135.8 L613.4,136.8 L614.7,137.8 L616.0,138.9" fill="none" stroke="#f2b518" stroke-width="2.2" stroke-linecap="round"/>
<path d="M616.0,138.9 L617.4,140.0 L618.9,141.2 L620.3,142.4" fill="none" stroke="#f2b518" stroke-width="2.2" stroke-linecap="round"/>
<path d="M620.3,142.4 L621.8,143.6 L623.3,144.8 L624.8,146.1" fill="none" stroke="#f2b518" stroke-width="2.2" stroke-linecap="round"/>
<path d="M624.8,146.1 L626.3,147.3 L627.8,148.6 L629.3,149.9 L630.7,151.1" fill="none" stroke="#f2b518" stroke-width="2.2" stroke-linecap="round"/>
<path d="M630.7,151.1 L632.1,152.4 L633.5,153.6 L634.8,154.8" fill="none" stroke="#f2b518" stroke-width="2.2" stroke-linecap="round"/>
<path d="M634.8,154.8 L636.1,156.0 L637.4,157.2 L638.6,158.4" fill="none" stroke="#f2b518" stroke-width="2.2" stroke-linecap="round"/>
<path d="M638.6,158.4 L639.9,159.5 L641.1,160.7 L642.2,161.9" fill="none" stroke="#f2b518" stroke-width="2.2" stroke-linecap="round"/>
<path d="M642.2,161.9 L643.4,163.0 L644.5,164.2 L645.6,165.3" fill="none" stroke="#f2b518" stroke-width="2.2" stroke-linecap="round"/>
<path d="M645.6,165.3 L646.7,166.5 L647.8,167.6 L648.8,168.8" fill="none" stroke="#f2b518" stroke-width="2.2" stroke-linecap="round"/>
<path d="M648.8,168.8 L649.8,170.0 L650.7,171.1 L651.7,172.2" fill="none" stroke="#f2b518" stroke-width="2.2" stroke-linecap="round"/>
<path d="M651.7,172.2 L652.5,173.3 L653.4,174.5 L654.2,175.6" fill="none" stroke="#f2b518" stroke-width="2.2" stroke-linecap="round"/>
<path d="M654.2,175.6 L655.0,176.7 L655.9,177.9 L656.7,179.0" fill="none" stroke="#f2b518" stroke-width="2.2" stroke-linecap="round"/>
<path d="M656.7,179.0 L657.5,180.2 L658.3,181.4 L659.2,182.7" fill="none" stroke="#f2b518" stroke-width="2.2" stroke-linecap="round"/>
<path d="M659.2,182.7 L660.1,184.0 L661.0,185.3 L661.8,186.6" fill="none" stroke="#f2b518" stroke-width="2.2" stroke-linecap="round"/>
<path d="M661.8,186.6 L662.7,187.9 L663.6,189.2 L664.5,190.6" fill="none" stroke="#f2b518" stroke-width="2.2" stroke-linecap="round"/>
<path d="M664.5,190.6 L665.4,192.0 L666.2,193.4 L667.1,194.8" fill="none" stroke="#f2b518" stroke-width="2.2" stroke-linecap="round"/>
<path d="M667.1,194.8 L668.0,196.3 L668.8,197.8 L669.7,199.3" fill="none" stroke="#f2b518" stroke-width="2.2" stroke-linecap="round"/>
<path d="M669.7,199.3 L670.6,200.9 L671.4,202.5 L672.3,204.1" fill="none" stroke="#f2b518" stroke-width="2.2" stroke-linecap="round"/>
<path d="M672.3,204.1 L673.2,205.8 L674.0,207.5 L674.9,209.3" fill="none" stroke="#f2b319" stroke-width="2.2" stroke-linecap="round"/>
<path d="M674.9,209.3 L675.7,211.0 L676.5,212.7 L677.4,214.5" fill="none" stroke="#f1b21a" stroke-width="2.2" stroke-linecap="round"/>
<path d="M677.4,214.5 L678.1,216.2 L678.9,217.9 L679.6,219.6" fill="none" stroke="#f1b01b" stroke-width="2.2" stroke-linecap="round"/>
<path d="M679.6,219.6 L680.3,221.3 L681.0,223.0 L681.7,224.6" fill="none" stroke="#f0af1c" stroke-width="2.2" stroke-linecap="round"/>
<path d="M681.7,224.6 L682.3,226.3 L682.9,228.0 L683.5,229.7 L684.1,231.3" fill="none" stroke="#f0ad1d" stroke-width="2.2" stroke-linecap="round"/>
<path d="M684.1,231.3 L684.7,233.0 L685.2,234.6 L685.7,236.2" fill="none" stroke="#f0ab1e" stroke-width="2.2" stroke-linecap="round"/>
<path d="M685.7,236.2 L686.1,237.7 L686.5,239.2 L686.8,240.7" fill="none" stroke="#efaa1e" stroke-width="2.2" stroke-linecap="round"/>
<path d="M686.8,240.7 L687.1,242.1 L687.4,243.4 L687.6,244.8" fill="none" stroke="#efa91f" stroke-width="2.2" stroke-linecap="round"/>
<path d="M687.6,244.8 L687.8,246.1 L687.9,247.4 L688.1,248.7" fill="none" stroke="#efa820" stroke-width="2.2" stroke-linecap="round"/>
<path d="M688.1,248.7 L688.2,250.0 L688.2,251.2 L688.3,252.4" fill="none" stroke="#eea720" stroke-width="2.2" stroke-linecap="round"/>
<path d="M688.3,252.4 L688.4,253.7 L688.4,254.9 L688.4,256.1" fill="none" stroke="#eea621" stroke-width="2.2" stroke-linecap="round"/>
<path d="M688.4,256.1 L688.5,257.3 L688.5,258.5 L688.5,259.7" fill="none" stroke="#eea522" stroke-width="2.2" stroke-linecap="round"/>
<path d="M688.5,259.7 L688.5,260.9 L688.4,262.0 L688.3,263.1" fill="none" stroke="#eea422" stroke-width="2.2" stroke-linecap="round"/>
<path d="M688.3,263.1 L688.2,264.3 L688.1,265.4 L687.9,266.5" fill="none" stroke="#eda323" stroke-width="2.2" stroke-linecap="round"/>
<path d="M687.9,266.5 L687.7,267.5 L687.5,268.6 L687.2,269.6" fill="none" stroke="#eda223" stroke-width="2.2" stroke-linecap="round"/>
<path d="M687.2,269.6 L686.9,270.7 L686.5,271.7 L686.0,272.7" fill="none" stroke="#eda124" stroke-width="2.2" stroke-linecap="round"/>
<path d="M686.0,272.7 L685.6,273.7 L685.1,274.6 L684.6,275.6" fill="none" stroke="#eda024" stroke-width="2.2" stroke-linecap="round"/>
<path d="M684.6,275.6 L684.1,276.5 L683.6,277.5 L683.0,278.4" fill="none" stroke="#ec9f25" stroke-width="2.2" stroke-linecap="round"/>
<path d="M683.0,278.4 L682.5,279.3 L682.0,280.2 L681.5,281.1" fill="none" stroke="#ec9f25" stroke-width="2.2" stroke-linecap="round"/>
<path d="M681.5,281.1 L681.0,282.0 L680.4,282.8 L679.9,283.7" fill="none" stroke="#ec9e26" stroke-width="2.2" stroke-linecap="round"/>
<path d="M679.9,283.7 L679.4,284.5 L678.8,285.4 L678.2,286.2" fill="none" stroke="#ec9d26" stroke-width="2.2" stroke-linecap="round"/>
<path d="M678.2,286.2 L677.7,287.0 L677.1,287.8 L676.6,288.6" fill="none" stroke="#ec9c27" stroke-width="2.2" stroke-linecap="round"/>
<path d="M676.6,288.6 L676.0,289.4 L675.5,290.2 L675.0,291.0 L674.4,291.8" fill="none" stroke="#eb9b27" stroke-width="2.2" stroke-linecap="round"/>
<path d="M674.4,291.8 L673.9,292.5 L673.4,293.3 L672.9,294.0" fill="none" stroke="#eb9a28" stroke-width="2.2" stroke-linecap="round"/>
<path d="M672.9,294.0 L672.4,294.8 L671.9,295.5 L671.3,296.3" fill="none" stroke="#eb9a28" stroke-width="2.2" stroke-linecap="round"/>
<path d="M671.3,296.3 L670.8,297.0 L670.3,297.7 L669.7,298.5" fill="none" stroke="#eb9828" stroke-width="2.2" stroke-linecap="round"/>
<path d="M669.7,298.5 L669.2,299.2 L668.6,299.9 L668.1,300.6" fill="none" stroke="#ea9728" stroke-width="2.2" stroke-linecap="round"/>
<path d="M668.1,300.6 L667.6,301.4 L667.0,302.1 L666.5,302.8" fill="none" stroke="#ea9629" stroke-width="2.2" stroke-linecap="round"/>
<path d="M666.5,302.8 L665.9,303.5 L665.3,304.2 L664.8,304.9" fill="none" stroke="#ea9529" stroke-width="2.2" stroke-linecap="round"/>
<path d="M664.8,304.9 L664.1,305.6 L663.5,306.4 L662.9,307.1" fill="none" stroke="#e99429" stroke-width="2.2" stroke-linecap="round"/>
<path d="M662.9,307.1 L662.2,307.9 L661.5,308.7 L660.8,309.5" fill="none" stroke="#e99329" stroke-width="2.2" stroke-linecap="round"/>
<path d="M660.8,309.5 L660.1,310.3 L659.3,311.2 L658.6,312.0" fill="none" stroke="#e99229" stroke-width="2.2" stroke-linecap="round"/>
<path d="M658.6,312.0 L657.8,312.9 L657.0,313.7 L656.2,314.6" fill="none" stroke="#e89029" stroke-width="2.2" stroke-linecap="round"/>
<path d="M656.2,314.6 L655.3,315.5 L654.5,316.4 L653.5,317.3" fill="none" stroke="#e88f2a" stroke-width="2.2" stroke-linecap="round"/>
<path d="M653.5,317.3 L652.6,318.3 L651.6,319.3 L650.7,320.3" fill="none" stroke="#e88d2a" stroke-width="2.2" stroke-linecap="round"/>
<path d="M650.7,320.3 L649.7,321.3 L648.6,322.3 L647.6,323.4" fill="none" stroke="#e78c2a" stroke-width="2.2" stroke-linecap="round"/>
<path d="M647.6,323.4 L646.5,324.4 L645.4,325.5 L644.2,326.6" fill="none" stroke="#e78a2a" stroke-width="2.2" stroke-linecap="round"/>
<path d="M644.2,326.6 L643.0,327.7 L641.8,328.8 L640.5,329.9" fill="none" stroke="#e6882b" stroke-width="2.2" stroke-linecap="round"/>
<path d="M640.5,329.9 L639.2,331.0 L637.8,332.1 L636.3,333.3" fill="none" stroke="#e6862b" stroke-width="2.2" stroke-linecap="round"/>
<path d="M636.3,333.3 L634.8,334.4 L633.3,335.6 L631.7,336.8" fill="none" stroke="#e5842b" stroke-width="2.2" stroke-linecap="round"/>
<path d="M631.7,336.8 L630.0,337.9 L628.4,339.1 L626.7,340.3" fill="none" stroke="#e4822c" stroke-width="2.2" stroke-linecap="round"/>
<path d="M626.7,340.3 L625.0,341.5 L623.3,342.7 L621.6,343.8 L620.0,345.0" fill="none" stroke="#e37f2c" stroke-width="2.2" stroke-linecap="round"/>
<path d="M620.0,345.0 L618.4,346.1 L616.8,347.2 L615.3,348.3" fill="none" stroke="#e27b2c" stroke-width="2.2" stroke-linecap="round"/>
<path d="M615.3,348.3 L613.8,349.4 L612.2,350.5 L610.7,351.5" fill="none" stroke="#e1792c" stroke-width="2.2" stroke-linecap="round"/>
<path d="M610.7,351.5 L609.1,352.6 L607.4,353.8 L605.7,354.9" fill="none" stroke="#e0762b" stroke-width="2.2" stroke-linecap="round"/>
<path d="M605.7,354.9 L603.9,356.2 L602.0,357.4 L600.0,358.8" fill="none" stroke="#df732b" stroke-width="2.2" stroke-linecap="round"/>
<path d="M600.0,358.8 L597.8,360.3 L595.5,361.8 L593.0,363.5" fill="none" stroke="#de6f2b" stroke-width="2.2" stroke-linecap="round"/>
<path d="M593.0,363.5 L590.4,365.2 L587.8,366.9 L585.1,368.7" fill="none" stroke="#dc6b2b" stroke-width="2.2" stroke-linecap="round"/>
<path d="M585.1,368.7 L582.4,370.5 L579.8,372.2 L577.2,373.9" fill="none" stroke="#da662a" stroke-width="2.2" stroke-linecap="round"/>
<path d="M577.2,373.9 L574.7,375.6 L572.3,377.1 L570.0,378.6" fill="none" stroke="#d9622a" stroke-width="2.2" stroke-linecap="round"/>
<path d="M570.0,378.6 L567.9,380.0 L565.8,381.2 L563.9,382.5" fill="none" stroke="#d75e2a" stroke-width="2.2" stroke-linecap="round"/>
<path d="M563.9,382.5 L562.0,383.6 L560.1,384.8 L558.3,385.9" fill="none" stroke="#d65a2a" stroke-width="2.2" stroke-linecap="round"/>
<path d="M558.3,385.9 L556.6,387.0 L554.8,388.0 L553.1,389.1" fill="none" stroke="#d55629" stroke-width="2.2" stroke-linecap="round"/>
<path d="M553.1,389.1 L551.4,390.1 L549.7,391.1 L548.0,392.2" fill="none" stroke="#d45329" stroke-width="2.2" stroke-linecap="round"/>
<path d="M548.0,392.2 L546.3,393.3 L544.6,394.3 L542.9,395.4" fill="none" stroke="#d34f29" stroke-width="2.2" stroke-linecap="round"/>
<path d="M542.9,395.4 L541.2,396.5 L539.5,397.5 L537.9,398.6" fill="none" stroke="#d24c29" stroke-width="2.2" stroke-linecap="round"/>
<path d="M537.9,398.6 L536.3,399.6 L534.7,400.6 L533.1,401.6" fill="none" stroke="#d14929" stroke-width="2.2" stroke-linecap="round"/>
<path d="M533.1,401.6 L531.6,402.5 L530.1,403.4 L528.6,404.3" fill="none" stroke="#d04629" stroke-width="2.2" stroke-linecap="round"/>
<path d="M528.6,404.3 L527.1,405.2 L525.6,406.0 L524.0,406.9" fill="none" stroke="#cf4328" stroke-width="2.2" stroke-linecap="round"/>
<path d="M524.0,406.9 L522.5,407.7 L521.0,408.6 L519.5,409.4 L518.1,410.1" fill="none" stroke="#ce3f28" stroke-width="2.2" stroke-linecap="round"/>
<path d="M346.8,71.2 L354.6,66.4 L353.7,71.2 L354.6,76.0Z" fill="#f2b518"/>
<path d="M512.9,412.9 L517.5,405.0 L519.0,409.6 L522.0,413.5Z" fill="#cc3a28"/>
<ellipse cx="284.3" cy="78.5" rx="59.40" ry="21.60" fill="rgba(245,206,112,0.72)" stroke="#f2b518" stroke-width="2.4"/>
<ellipse cx="432.6" cy="89.25" rx="53.60" ry="21.15" fill="rgba(202,105,100,0.72)" stroke="#c8202a" stroke-width="2.4"/>
<ellipse cx="360.3" cy="120.0" rx="62.10" ry="20.80" fill="rgba(245,206,112,0.72)" stroke="#f2b518" stroke-width="2.4"/>
<ellipse cx="497.75" cy="136.65" rx="52.45" ry="13.35" fill="rgba(202,105,100,0.72)" stroke="#c8202a" stroke-width="2.4"/>
<ellipse cx="398.1" cy="166.4" rx="35.20" ry="21.00" fill="rgba(245,206,112,0.72)" stroke="#f2b518" stroke-width="2.4"/>
<ellipse cx="228.0" cy="136.0" rx="59.55" ry="14.40" fill="rgba(231,166,123,0.72)" stroke="#e8842c" stroke-width="2.4"/>
<ellipse cx="123.5" cy="144.15" rx="35.10" ry="22.85" fill="rgba(231,166,123,0.72)" stroke="#e8842c" stroke-width="2.4"/>
<ellipse cx="252.55" cy="208.85" rx="59.55" ry="22.20" fill="rgba(231,166,123,0.72)" stroke="#e8842c" stroke-width="2.4"/>
<ellipse cx="89.9" cy="217.8" rx="73.55" ry="22.40" fill="rgba(231,166,123,0.72)" stroke="#e8842c" stroke-width="2.4"/>
<ellipse cx="355.5" cy="229.85" rx="28.60" ry="12.35" fill="rgba(231,166,123,0.72)" stroke="#e8842c" stroke-width="2.4"/>
<ellipse cx="498.5" cy="233.15" rx="59.60" ry="22.25" fill="rgba(231,166,123,0.72)" stroke="#e8842c" stroke-width="2.4"/>
<ellipse cx="236.9" cy="290.6" rx="41.10" ry="22.40" fill="rgba(231,166,123,0.72)" stroke="#e8842c" stroke-width="2.4"/>
<ellipse cx="618.75" cy="299.05" rx="32.75" ry="20.55" fill="rgba(245,206,112,0.72)" stroke="#f2b518" stroke-width="2.4"/>
<ellipse cx="241.85" cy="429.45" rx="70.75" ry="20.05" fill="rgba(245,206,112,0.72)" stroke="#f2b518" stroke-width="2.4"/>
<ellipse cx="453.75" cy="430.1" rx="70.35" ry="20.20" fill="rgba(202,105,100,0.72)" stroke="#c8202a" stroke-width="2.4"/>
<path d="M211.9,85.0 L207.3,86.4 L202.3,88.1" fill="none" stroke="#f2b518" stroke-width="2.2" stroke-linecap="round"/>
<path d="M202.3,88.1 L196.8,89.8 L191.0,91.7" fill="none" stroke="#f2b518" stroke-width="2.2" stroke-linecap="round"/>
<path d="M191.0,91.7 L185.2,93.6 L179.4,95.4" fill="none" stroke="#f2b518" stroke-width="2.2" stroke-linecap="round"/>
<path d="M179.4,95.4 L173.8,97.2 L168.7,98.9" fill="none" stroke="#f2b518" stroke-width="2.2" stroke-linecap="round"/>
<path d="M168.7,98.9 L164.0,100.4 L160.0,101.7" fill="none" stroke="#f2b518" stroke-width="2.2" stroke-linecap="round"/>
<path d="M160.0,101.7 L156.6,102.8 L153.6,103.7" fill="none" stroke="#f2b518" stroke-width="2.2" stroke-linecap="round"/>
<path d="M153.6,103.7 L150.9,104.6 L148.5,105.3" fill="none" stroke="#f2b518" stroke-width="2.2" stroke-linecap="round"/>
<path d="M148.5,105.3 L146.3,106.0 L144.3,106.6 L142.4,107.2" fill="none" stroke="#f2b518" stroke-width="2.2" stroke-linecap="round"/>
<path d="M142.4,107.2 L140.5,107.8 L138.6,108.4" fill="none" stroke="#f2b518" stroke-width="2.2" stroke-linecap="round"/>
<path d="M138.6,108.4 L136.7,109.1 L134.6,109.7" fill="none" stroke="#f2b518" stroke-width="2.2" stroke-linecap="round"/>
<path d="M134.6,109.7 L132.4,110.5 L130.1,111.3" fill="none" stroke="#f2b518" stroke-width="2.2" stroke-linecap="round"/>
<path d="M130.1,111.3 L127.8,112.1 L125.6,112.8" fill="none" stroke="#f2b518" stroke-width="2.2" stroke-linecap="round"/>
<path d="M125.6,112.8 L123.4,113.6 L121.1,114.4" fill="none" stroke="#f2b518" stroke-width="2.2" stroke-linecap="round"/>
<path d="M121.1,114.4 L118.9,115.2 L116.6,116.0" fill="none" stroke="#f2b518" stroke-width="2.2" stroke-linecap="round"/>
<path d="M116.6,116.0 L114.3,116.9 L112.0,117.8 L109.6,118.7" fill="none" stroke="#f2b518" stroke-width="2.2" stroke-linecap="round"/>
<path d="M109.6,118.7 L107.1,119.8 L104.5,120.9" fill="none" stroke="#f2b518" stroke-width="2.2" stroke-linecap="round"/>
<path d="M104.5,120.9 L101.8,122.1 L99.0,123.4" fill="none" stroke="#f2b518" stroke-width="2.2" stroke-linecap="round"/>
<path d="M99.0,123.4 L96.0,124.8 L93.0,126.2" fill="none" stroke="#f2b518" stroke-width="2.2" stroke-linecap="round"/>
<path d="M93.0,126.2 L90.0,127.7 L86.9,129.2" fill="none" stroke="#f2b518" stroke-width="2.2" stroke-linecap="round"/>
<path d="M86.9,129.2 L83.8,130.7 L80.8,132.2" fill="none" stroke="#f2b518" stroke-width="2.2" stroke-linecap="round"/>
<path d="M80.8,132.2 L77.8,133.8 L75.0,135.3" fill="none" stroke="#f2b518" stroke-width="2.2" stroke-linecap="round"/>
<path d="M75.0,135.3 L72.3,136.8 L69.7,138.3 L67.3,139.7" fill="none" stroke="#f2b518" stroke-width="2.2" stroke-linecap="round"/>
<path d="M67.3,139.7 L65.0,141.2 L62.7,142.6" fill="none" stroke="#f2b518" stroke-width="2.2" stroke-linecap="round"/>
<path d="M62.7,142.6 L60.5,144.1 L58.4,145.5" fill="none" stroke="#f2b518" stroke-width="2.2" stroke-linecap="round"/>
<path d="M58.4,145.5 L56.4,147.0 L54.4,148.4" fill="none" stroke="#f2b518" stroke-width="2.2" stroke-linecap="round"/>
<path d="M54.4,148.4 L52.5,149.9 L50.7,151.3" fill="none" stroke="#f2b518" stroke-width="2.2" stroke-linecap="round"/>
<path d="M50.7,151.3 L48.8,152.8 L47.1,154.2" fill="none" stroke="#f2b518" stroke-width="2.2" stroke-linecap="round"/>
<path d="M47.1,154.2 L45.3,155.7 L43.6,157.1" fill="none" stroke="#f2b518" stroke-width="2.2" stroke-linecap="round"/>
<path d="M43.6,157.1 L41.9,158.6 L40.3,160.0" fill="none" stroke="#f2b518" stroke-width="2.2" stroke-linecap="round"/>
<path d="M40.3,160.0 L38.8,161.4 L37.3,162.8 L35.8,164.2" fill="none" stroke="#f2b518" stroke-width="2.2" stroke-linecap="round"/>
<path d="M35.8,164.2 L34.4,165.7 L33.1,167.1" fill="none" stroke="#f2b518" stroke-width="2.2" stroke-linecap="round"/>
<path d="M33.1,167.1 L31.7,168.6 L30.4,170.1" fill="none" stroke="#f2b518" stroke-width="2.2" stroke-linecap="round"/>
<path d="M30.4,170.1 L29.1,171.6 L27.9,173.2" fill="none" stroke="#f2b518" stroke-width="2.2" stroke-linecap="round"/>
<path d="M27.9,173.2 L26.7,174.8 L25.5,176.4" fill="none" stroke="#f2b518" stroke-width="2.2" stroke-linecap="round"/>
<path d="M25.5,176.4 L24.4,178.1 L23.2,179.8" fill="none" stroke="#f2b518" stroke-width="2.2" stroke-linecap="round"/>
<path d="M23.2,179.8 L22.2,181.4 L21.1,183.2" fill="none" stroke="#f2b518" stroke-width="2.2" stroke-linecap="round"/>
<path d="M21.1,183.2 L20.1,184.9 L19.2,186.7 L18.2,188.5" fill="none" stroke="#f2b518" stroke-width="2.2" stroke-linecap="round"/>
<path d="M18.2,188.5 L17.3,190.3 L16.5,192.1" fill="none" stroke="#f2b518" stroke-width="2.2" stroke-linecap="round"/>
<path d="M16.5,192.1 L15.7,194.0 L14.9,195.9" fill="none" stroke="#f2b518" stroke-width="2.2" stroke-linecap="round"/>
<path d="M14.9,195.9 L14.2,197.9 L13.5,199.9" fill="none" stroke="#f2b518" stroke-width="2.2" stroke-linecap="round"/>
<path d="M13.5,199.9 L12.9,202.0 L12.3,204.1" fill="none" stroke="#f2b518" stroke-width="2.2" stroke-linecap="round"/>
<path d="M12.3,204.1 L11.7,206.2 L11.2,208.4" fill="none" stroke="#f2b518" stroke-width="2.2" stroke-linecap="round"/>
<path d="M11.2,208.4 L10.7,210.5 L10.3,212.5" fill="none" stroke="#f2b518" stroke-width="2.2" stroke-linecap="round"/>
<path d="M10.3,212.5 L9.9,214.6 L9.5,216.6 L9.2,218.5" fill="none" stroke="#f2b518" stroke-width="2.2" stroke-linecap="round"/>
<path d="M9.2,218.5 L8.9,220.4 L8.7,222.2" fill="none" stroke="#f2b518" stroke-width="2.2" stroke-linecap="round"/>
<path d="M8.7,222.2 L8.4,224.0 L8.2,225.7" fill="none" stroke="#f2b518" stroke-width="2.2" stroke-linecap="round"/>
<path d="M8.2,225.7 L8.1,227.4 L8.0,229.1" fill="none" stroke="#f2b518" stroke-width="2.2" stroke-linecap="round"/>
<path d="M8.0,229.1 L7.9,230.8 L7.9,232.5" fill="none" stroke="#f2b518" stroke-width="2.2" stroke-linecap="round"/>
<path d="M7.9,232.5 L8.0,234.2 L8.1,235.9" fill="none" stroke="#f2b518" stroke-width="2.2" stroke-linecap="round"/>
<path d="M8.1,235.9 L8.3,237.6 L8.5,239.4" fill="none" stroke="#f2b518" stroke-width="2.2" stroke-linecap="round"/>
<path d="M8.5,239.4 L8.8,241.2 L9.2,243.0" fill="none" stroke="#f2b518" stroke-width="2.2" stroke-linecap="round"/>
<path d="M9.2,243.0 L9.6,244.8 L10.1,246.6 L10.7,248.4" fill="none" stroke="#f2b518" stroke-width="2.2" stroke-linecap="round"/>
<path d="M10.7,248.4 L11.3,250.2 L11.9,252.0" fill="none" stroke="#f2b518" stroke-width="2.2" stroke-linecap="round"/>
<path d="M11.9,252.0 L12.6,253.8 L13.4,255.6" fill="none" stroke="#f2b518" stroke-width="2.2" stroke-linecap="round"/>
<path d="M13.4,255.6 L14.1,257.4 L14.9,259.2" fill="none" stroke="#f2b518" stroke-width="2.2" stroke-linecap="round"/>
<path d="M14.9,259.2 L15.7,261.0 L16.5,262.8" fill="none" stroke="#f2b518" stroke-width="2.2" stroke-linecap="round"/>
<path d="M16.5,262.8 L17.4,264.5 L18.3,266.3" fill="none" stroke="#f2b518" stroke-width="2.2" stroke-linecap="round"/>
<path d="M18.3,266.3 L19.2,268.0 L20.2,269.8" fill="none" stroke="#f2b518" stroke-width="2.2" stroke-linecap="round"/>
<path d="M20.2,269.8 L21.2,271.5 L22.2,273.2 L23.3,275.0" fill="none" stroke="#f2b518" stroke-width="2.2" stroke-linecap="round"/>
<path d="M23.3,275.0 L24.4,276.7 L25.5,278.4" fill="none" stroke="#f2b518" stroke-width="2.2" stroke-linecap="round"/>
<path d="M25.5,278.4 L26.7,280.2 L27.9,281.9" fill="none" stroke="#f2b518" stroke-width="2.2" stroke-linecap="round"/>
<path d="M27.9,281.9 L29.1,283.6 L30.4,285.3" fill="none" stroke="#f2b518" stroke-width="2.2" stroke-linecap="round"/>
<path d="M30.4,285.3 L31.7,287.0 L33.1,288.6" fill="none" stroke="#f2b518" stroke-width="2.2" stroke-linecap="round"/>
<path d="M33.1,288.6 L34.4,290.3 L35.8,291.9" fill="none" stroke="#f2b518" stroke-width="2.2" stroke-linecap="round"/>
<path d="M35.8,291.9 L37.3,293.6 L38.8,295.3" fill="none" stroke="#f2b518" stroke-width="2.2" stroke-linecap="round"/>
<path d="M38.8,295.3 L40.3,297.1 L41.9,298.9 L43.6,300.8" fill="none" stroke="#f2b518" stroke-width="2.2" stroke-linecap="round"/>
<path d="M43.6,300.8 L45.3,302.8 L47.1,304.9" fill="none" stroke="#f2b518" stroke-width="2.2" stroke-linecap="round"/>
<path d="M47.1,304.9 L49.0,307.1 L50.9,309.4" fill="none" stroke="#f2b518" stroke-width="2.2" stroke-linecap="round"/>
<path d="M50.9,309.4 L52.9,311.7 L55.0,314.1" fill="none" stroke="#f2b518" stroke-width="2.2" stroke-linecap="round"/>
<path d="M55.0,314.1 L57.1,316.5 L59.2,319.0" fill="none" stroke="#f2b518" stroke-width="2.2" stroke-linecap="round"/>
<path d="M59.2,319.0 L61.4,321.4 L63.5,323.8" fill="none" stroke="#f2b518" stroke-width="2.2" stroke-linecap="round"/>
<path d="M63.5,323.8 L65.6,326.2 L67.7,328.5" fill="none" stroke="#f2b518" stroke-width="2.2" stroke-linecap="round"/>
<path d="M67.7,328.5 L69.8,330.7 L71.8,332.9" fill="none" stroke="#f2b518" stroke-width="2.2" stroke-linecap="round"/>
<path d="M71.8,332.9 L73.9,335.0 L75.9,337.0 L77.9,339.0" fill="none" stroke="#f2b518" stroke-width="2.2" stroke-linecap="round"/>
<path d="M77.9,339.0 L79.9,341.0 L82.0,343.0" fill="none" stroke="#f2b518" stroke-width="2.2" stroke-linecap="round"/>
<path d="M82.0,343.0 L84.0,345.0 L86.0,347.0" fill="none" stroke="#f2b518" stroke-width="2.2" stroke-linecap="round"/>
<path d="M86.0,347.0 L88.1,349.0 L90.1,351.0" fill="none" stroke="#f2b518" stroke-width="2.2" stroke-linecap="round"/>
<path d="M90.1,351.0 L92.1,353.0 L94.2,355.1" fill="none" stroke="#f2b518" stroke-width="2.2" stroke-linecap="round"/>
<path d="M94.2,355.1 L96.2,357.1 L98.1,359.1" fill="none" stroke="#f2b518" stroke-width="2.2" stroke-linecap="round"/>
<path d="M98.1,359.1 L99.8,361.0 L101.6,362.9" fill="none" stroke="#f2b518" stroke-width="2.2" stroke-linecap="round"/>
<path d="M101.6,362.9 L103.3,364.8 L105.1,366.7 L107.0,368.7" fill="none" stroke="#f2b518" stroke-width="2.2" stroke-linecap="round"/>
<path d="M107.0,368.7 L109.0,370.8 L111.2,373.0" fill="none" stroke="#f2b518" stroke-width="2.2" stroke-linecap="round"/>
<path d="M111.2,373.0 L113.7,375.4 L116.3,378.0" fill="none" stroke="#f2b518" stroke-width="2.2" stroke-linecap="round"/>
<path d="M116.3,378.0 L119.3,380.8 L122.8,384.0" fill="none" stroke="#f2b518" stroke-width="2.2" stroke-linecap="round"/>
<path d="M122.8,384.0 L126.8,387.7 L131.3,391.7" fill="none" stroke="#f2b518" stroke-width="2.2" stroke-linecap="round"/>
<path d="M131.3,391.7 L136.1,395.9 L141.0,400.3" fill="none" stroke="#f2b518" stroke-width="2.2" stroke-linecap="round"/>
<path d="M141.0,400.3 L146.0,404.8 L150.9,409.1" fill="none" stroke="#f2b518" stroke-width="2.2" stroke-linecap="round"/>
<path d="M150.9,409.1 L155.6,413.2 L160.0,417.0 L163.8,420.4" fill="none" stroke="#f2b518" stroke-width="2.2" stroke-linecap="round"/>
<path d="M218.6,82.8 L212.7,89.8 L212.0,84.9 L209.7,80.6Z" fill="#f2b518"/>
<path d="M169.6,425.5 L160.6,423.9 L164.4,420.9 L166.9,416.7Z" fill="#f2b518"/>
<path d="M98.7,247.0 L98.8,248.0 L99.0,249.2" fill="none" stroke="#e8842c" stroke-width="2.2" stroke-linecap="round"/>
<path d="M99.0,249.2 L99.1,250.6 L99.3,252.2" fill="none" stroke="#e8852c" stroke-width="2.2" stroke-linecap="round"/>
<path d="M99.3,252.2 L99.5,253.9 L99.7,255.7" fill="none" stroke="#e8862b" stroke-width="2.2" stroke-linecap="round"/>
<path d="M99.7,255.7 L100.0,257.6 L100.2,259.6" fill="none" stroke="#e9872b" stroke-width="2.2" stroke-linecap="round"/>
<path d="M100.2,259.6 L100.5,261.7 L100.7,263.8 L101.0,265.8" fill="none" stroke="#e9882a" stroke-width="2.2" stroke-linecap="round"/>
<path d="M101.0,265.8 L101.2,267.9 L101.4,270.0" fill="none" stroke="#e98a2a" stroke-width="2.2" stroke-linecap="round"/>
<path d="M101.4,270.0 L101.7,272.1 L101.9,274.4" fill="none" stroke="#e98b29" stroke-width="2.2" stroke-linecap="round"/>
<path d="M101.9,274.4 L102.1,276.7 L102.4,279.0" fill="none" stroke="#ea8c29" stroke-width="2.2" stroke-linecap="round"/>
<path d="M102.4,279.0 L102.6,281.4 L102.9,283.8 L103.2,286.2" fill="none" stroke="#ea8d28" stroke-width="2.2" stroke-linecap="round"/>
<path d="M103.2,286.2 L103.5,288.7 L103.8,291.1" fill="none" stroke="#ea8f27" stroke-width="2.2" stroke-linecap="round"/>
<path d="M103.8,291.1 L104.2,293.5 L104.6,295.8" fill="none" stroke="#eb9027" stroke-width="2.2" stroke-linecap="round"/>
<path d="M104.6,295.8 L105.1,298.1 L105.5,300.5" fill="none" stroke="#eb9226" stroke-width="2.2" stroke-linecap="round"/>
<path d="M105.5,300.5 L106.1,302.9 L106.6,305.4" fill="none" stroke="#eb9326" stroke-width="2.2" stroke-linecap="round"/>
<path d="M106.6,305.4 L107.2,307.8 L107.8,310.2 L108.4,312.6" fill="none" stroke="#eb9425" stroke-width="2.2" stroke-linecap="round"/>
<path d="M108.4,312.6 L109.0,314.9 L109.7,317.2" fill="none" stroke="#ec9625" stroke-width="2.2" stroke-linecap="round"/>
<path d="M109.7,317.2 L110.3,319.5 L111.0,321.6" fill="none" stroke="#ec9724" stroke-width="2.2" stroke-linecap="round"/>
<path d="M111.0,321.6 L111.6,323.7 L112.2,325.6" fill="none" stroke="#ec9824" stroke-width="2.2" stroke-linecap="round"/>
<path d="M112.2,325.6 L112.8,327.4 L113.3,329.1 L113.8,330.6" fill="none" stroke="#ec9a23" stroke-width="2.2" stroke-linecap="round"/>
<path d="M113.8,330.6 L114.3,332.2 L114.9,333.7" fill="none" stroke="#ed9b23" stroke-width="2.2" stroke-linecap="round"/>
<path d="M114.9,333.7 L115.5,335.2 L116.2,336.8" fill="none" stroke="#ed9c22" stroke-width="2.2" stroke-linecap="round"/>
<path d="M116.2,336.8 L116.9,338.5 L117.8,340.4" fill="none" stroke="#ed9d22" stroke-width="2.2" stroke-linecap="round"/>
<path d="M117.8,340.4 L118.8,342.4 L120.0,344.6" fill="none" stroke="#ed9e21" stroke-width="2.2" stroke-linecap="round"/>
<path d="M120.0,344.6 L121.3,347.0 L122.8,349.7 L124.3,352.5" fill="none" stroke="#eea021" stroke-width="2.2" stroke-linecap="round"/>
<path d="M124.3,352.5 L126.0,355.4 L127.8,358.4" fill="none" stroke="#eea220" stroke-width="2.2" stroke-linecap="round"/>
<path d="M127.8,358.4 L129.6,361.5 L131.5,364.7" fill="none" stroke="#eea41f" stroke-width="2.2" stroke-linecap="round"/>
<path d="M131.5,364.7 L133.5,367.8 L135.5,371.0" fill="none" stroke="#efa61e" stroke-width="2.2" stroke-linecap="round"/>
<path d="M135.5,371.0 L137.6,374.1 L139.7,377.1 L141.8,380.0" fill="none" stroke="#efa81d" stroke-width="2.2" stroke-linecap="round"/>
<path d="M141.8,380.0 L144.1,382.9 L146.5,386.0" fill="none" stroke="#f0aa1c" stroke-width="2.2" stroke-linecap="round"/>
<path d="M146.5,386.0 L149.2,389.2 L152.0,392.5" fill="none" stroke="#f0ad1b" stroke-width="2.2" stroke-linecap="round"/>
<path d="M152.0,392.5 L154.8,395.7 L157.6,398.8" fill="none" stroke="#f1af1b" stroke-width="2.2" stroke-linecap="round"/>
<path d="M157.6,398.8 L160.3,401.8 L162.9,404.7 L165.3,407.3" fill="none" stroke="#f1b119" stroke-width="2.2" stroke-linecap="round"/>
<path d="M170.7,413.2 L161.9,410.7 L166.1,408.1 L169.0,404.2Z" fill="#f2b518"/>
<path d="M132.8,248.9 L133.3,249.6 L133.7,250.4 L134.2,251.1 L134.6,251.9 L135.1,252.7" fill="none" stroke="#e8842c" stroke-width="2.2" stroke-linecap="round"/>
<path d="M135.1,252.7 L135.5,253.5 L135.9,254.4 L136.3,255.3 L136.7,256.2 L137.1,257.1" fill="none" stroke="#e8842c" stroke-width="2.2" stroke-linecap="round"/>
<path d="M137.1,257.1 L137.6,258.0 L138.0,258.9 L138.5,259.8 L138.9,260.7 L139.4,261.5" fill="none" stroke="#e8842c" stroke-width="2.2" stroke-linecap="round"/>
<path d="M139.4,261.5 L139.9,262.3 L140.4,263.1 L140.9,263.9 L141.4,264.7 L141.9,265.5" fill="none" stroke="#e8842c" stroke-width="2.2" stroke-linecap="round"/>
<path d="M141.9,265.5 L142.4,266.3 L142.9,267.0 L143.5,267.8 L144.1,268.5 L144.6,269.3 L145.3,270.0" fill="none" stroke="#e8842c" stroke-width="2.2" stroke-linecap="round"/>
<path d="M145.3,270.0 L145.9,270.7 L146.6,271.4 L147.2,272.1 L147.9,272.8 L148.6,273.5" fill="none" stroke="#e8842c" stroke-width="2.2" stroke-linecap="round"/>
<path d="M148.6,273.5 L149.3,274.2 L150.1,274.8 L150.9,275.5 L151.7,276.1 L152.5,276.8" fill="none" stroke="#e8842c" stroke-width="2.2" stroke-linecap="round"/>
<path d="M152.5,276.8 L153.3,277.4 L154.2,277.9 L155.1,278.5 L156.1,279.0 L157.1,279.5" fill="none" stroke="#e8842c" stroke-width="2.2" stroke-linecap="round"/>
<path d="M157.1,279.5 L158.1,280.0 L159.2,280.5 L160.3,281.0 L161.4,281.4 L162.6,281.8 L163.7,282.2" fill="none" stroke="#e8842c" stroke-width="2.2" stroke-linecap="round"/>
<path d="M163.7,282.2 L164.8,282.6 L166.0,283.0 L167.0,283.4 L168.1,283.8 L169.1,284.2" fill="none" stroke="#e8842c" stroke-width="2.2" stroke-linecap="round"/>
<path d="M169.1,284.2 L170.2,284.6 L171.2,284.9 L172.2,285.3 L173.2,285.6 L174.2,286.0" fill="none" stroke="#e8842c" stroke-width="2.2" stroke-linecap="round"/>
<path d="M174.2,286.0 L175.1,286.3 L176.1,286.6 L177.1,286.9 L178.0,287.2 L179.0,287.4" fill="none" stroke="#e8842c" stroke-width="2.2" stroke-linecap="round"/>
<path d="M179.0,287.4 L179.9,287.7 L180.9,287.9 L181.8,288.2 L182.9,288.4 L183.9,288.6 L184.9,288.7" fill="none" stroke="#e8842c" stroke-width="2.2" stroke-linecap="round"/>
<path d="M128.9,243.9 L137.4,247.3 L133.0,249.4 L129.7,253.0Z" fill="#e8842c"/>
<path d="M190.4,289.6 L181.9,293.0 L183.6,288.5 L183.5,283.6Z" fill="#e8842c"/>
<path d="M160.0,196.3 L161.7,195.5 L163.5,194.7" fill="none" stroke="#e8842c" stroke-width="2.2" stroke-linecap="round"/>
<path d="M163.5,194.7 L165.3,194.0 L167.1,193.4 L168.9,192.9" fill="none" stroke="#e8842c" stroke-width="2.2" stroke-linecap="round"/>
<path d="M168.9,192.9 L170.7,192.6 L172.4,192.4" fill="none" stroke="#e8842c" stroke-width="2.2" stroke-linecap="round"/>
<path d="M172.4,192.4 L174.1,192.4 L176.0,192.7 L178.0,193.1" fill="none" stroke="#e8842c" stroke-width="2.2" stroke-linecap="round"/>
<path d="M178.0,193.1 L180.0,193.5 L182.1,194.1" fill="none" stroke="#e8842c" stroke-width="2.2" stroke-linecap="round"/>
<path d="M182.1,194.1 L184.1,194.8 L186.0,195.4 L187.9,196.1" fill="none" stroke="#e8842c" stroke-width="2.2" stroke-linecap="round"/>
<path d="M153.6,199.3 L158.6,191.6 L159.8,196.4 L162.7,200.3Z" fill="#e8842c"/>
<path d="M193.4,198.0 L184.5,200.0 L186.9,195.7 L187.6,190.9Z" fill="#e8842c"/>
<path d="M273.6,113.1 L272.2,119.5" fill="none" stroke="#f0ad1b" stroke-width="2.2" stroke-linecap="round"/>
<path d="M272.2,119.5 L270.7,126.8" fill="none" stroke="#f0a91d" stroke-width="2.2" stroke-linecap="round"/>
<path d="M270.7,126.8 L269.1,134.5" fill="none" stroke="#efa41f" stroke-width="2.2" stroke-linecap="round"/>
<path d="M269.1,134.5 L267.4,142.6" fill="none" stroke="#ee9f21" stroke-width="2.2" stroke-linecap="round"/>
<path d="M267.4,142.6 L265.8,150.6" fill="none" stroke="#ec9a23" stroke-width="2.2" stroke-linecap="round"/>
<path d="M265.8,150.6 L264.2,158.3" fill="none" stroke="#eb9525" stroke-width="2.2" stroke-linecap="round"/>
<path d="M264.2,158.3 L262.7,165.6" fill="none" stroke="#ea9027" stroke-width="2.2" stroke-linecap="round"/>
<path d="M262.7,165.6 L261.3,172.0" fill="none" stroke="#ea8c29" stroke-width="2.2" stroke-linecap="round"/>
<path d="M275.5,103.8 L278.6,112.4 L274.1,110.6 L269.2,110.5Z" fill="#f2b518"/>
<path d="M259.4,181.3 L256.3,172.7 L260.8,174.5 L265.7,174.6Z" fill="#e8842c"/>
<path d="M294.2,142.4 L295.4,142.6 L296.5,142.7" fill="none" stroke="#eb9226" stroke-width="2.2" stroke-linecap="round"/>
<path d="M296.5,142.7 L297.6,142.8 L298.7,142.8 L299.7,142.7" fill="none" stroke="#ec9824" stroke-width="2.2" stroke-linecap="round"/>
<path d="M299.7,142.7 L300.8,142.5 L301.9,142.2 L303.1,141.8" fill="none" stroke="#ed9e21" stroke-width="2.2" stroke-linecap="round"/>
<path d="M303.1,141.8 L304.3,141.3 L305.5,140.8 L306.7,140.3" fill="none" stroke="#efa51e" stroke-width="2.2" stroke-linecap="round"/>
<path d="M288.2,141.1 L296.8,137.9 L295.0,142.4 L294.9,147.3Z" fill="#e8842c"/>
<path d="M312.3,137.7 L307.2,145.3 L306.0,140.6 L303.2,136.6Z" fill="#f2b518"/>
<path d="M353.2,86.2 L355.5,87.6" fill="none" stroke="#f2b518" stroke-width="2.2" stroke-linecap="round"/>
<path d="M355.5,87.6 L357.8,89.0" fill="none" stroke="#f2b518" stroke-width="2.2" stroke-linecap="round"/>
<path d="M357.8,89.0 L360.2,90.3" fill="none" stroke="#f2b518" stroke-width="2.2" stroke-linecap="round"/>
<path d="M360.2,90.3 L362.5,91.7" fill="none" stroke="#f2b518" stroke-width="2.2" stroke-linecap="round"/>
<path d="M346.5,82.2 L355.7,82.1 L352.4,85.7 L350.8,90.3Z" fill="#f2b518"/>
<path d="M369.2,95.7 L360.0,95.8 L363.3,92.2 L364.9,87.6Z" fill="#f2b518"/>
<path d="M278.5,240.8 L279.1,242.0 L279.8,243.3 L280.4,244.5" fill="none" stroke="#e9882d" stroke-width="2.2" stroke-linecap="round"/>
<path d="M280.4,244.5 L281.0,245.7 L281.5,246.9 L282.0,248.0 L282.4,249.0" fill="none" stroke="#e98a2d" stroke-width="2.2" stroke-linecap="round"/>
<path d="M282.4,249.0 L282.8,250.0 L283.2,250.9 L283.5,251.9 L283.9,252.8" fill="none" stroke="#e98c2d" stroke-width="2.2" stroke-linecap="round"/>
<path d="M283.9,252.8 L284.2,253.7 L284.5,254.7 L284.8,255.6 L285.1,256.6" fill="none" stroke="#e98e2d" stroke-width="2.2" stroke-linecap="round"/>
<path d="M285.1,256.6 L285.5,257.7 L285.9,258.8 L286.3,260.0" fill="none" stroke="#ea8f2e" stroke-width="2.2" stroke-linecap="round"/>
<path d="M286.3,260.0 L286.8,261.3 L287.2,262.6 L287.8,264.0 L288.3,265.4" fill="none" stroke="#ea922e" stroke-width="2.2" stroke-linecap="round"/>
<path d="M288.3,265.4 L288.8,266.9 L289.4,268.4 L290.0,269.9 L290.5,271.4" fill="none" stroke="#ea942e" stroke-width="2.2" stroke-linecap="round"/>
<path d="M290.5,271.4 L291.0,272.9 L291.5,274.4 L292.0,275.9 L292.4,277.4" fill="none" stroke="#eb972f" stroke-width="2.2" stroke-linecap="round"/>
<path d="M292.4,277.4 L292.8,278.9 L293.2,280.3 L293.5,281.8 L293.9,283.3" fill="none" stroke="#eb9a2f" stroke-width="2.2" stroke-linecap="round"/>
<path d="M293.9,283.3 L294.2,284.8 L294.5,286.3 L294.8,287.8" fill="none" stroke="#eb9c2f" stroke-width="2.2" stroke-linecap="round"/>
<path d="M294.8,287.8 L295.0,289.3 L295.3,290.7 L295.5,292.1 L295.7,293.5" fill="none" stroke="#ec9f30" stroke-width="2.2" stroke-linecap="round"/>
<path d="M295.7,293.5 L295.9,294.8 L296.1,296.1 L296.2,297.3 L296.4,298.5" fill="none" stroke="#eca12f" stroke-width="2.2" stroke-linecap="round"/>
<path d="M296.4,298.5 L296.5,299.7 L296.6,300.8 L296.7,301.9 L296.7,303.0" fill="none" stroke="#eda32c" stroke-width="2.2" stroke-linecap="round"/>
<path d="M296.7,303.0 L296.8,304.1 L296.8,305.3 L296.8,306.4 L296.8,307.6" fill="none" stroke="#eea62a" stroke-width="2.2" stroke-linecap="round"/>
<path d="M296.8,307.6 L296.8,308.8 L296.8,310.0 L296.7,311.3" fill="none" stroke="#eea727" stroke-width="2.2" stroke-linecap="round"/>
<path d="M296.7,311.3 L296.6,312.6 L296.5,313.9 L296.4,315.2 L296.2,316.6" fill="none" stroke="#efaa25" stroke-width="2.2" stroke-linecap="round"/>
<path d="M296.2,316.6 L296.1,317.9 L295.9,319.2 L295.7,320.5 L295.5,321.9" fill="none" stroke="#efac22" stroke-width="2.2" stroke-linecap="round"/>
<path d="M295.5,321.9 L295.2,323.2 L295.0,324.5 L294.7,325.8 L294.5,327.0" fill="none" stroke="#f0af1f" stroke-width="2.2" stroke-linecap="round"/>
<path d="M294.5,327.0 L294.2,328.2 L293.9,329.3 L293.6,330.5 L293.2,331.7" fill="none" stroke="#f1b11d" stroke-width="2.2" stroke-linecap="round"/>
<path d="M293.2,331.7 L292.9,332.9 L292.5,334.2 L292.1,335.5" fill="none" stroke="#f1b31a" stroke-width="2.2" stroke-linecap="round"/>
<path d="M292.1,335.5 L291.6,336.9 L291.2,338.4 L290.7,340.0 L290.2,341.8" fill="none" stroke="#f2b518" stroke-width="2.2" stroke-linecap="round"/>
<path d="M290.2,341.8 L289.6,343.7 L289.0,345.7 L288.4,347.8 L287.7,350.0" fill="none" stroke="#f2b518" stroke-width="2.2" stroke-linecap="round"/>
<path d="M287.7,350.0 L287.1,352.3 L286.4,354.5 L285.7,356.7 L285.0,358.9" fill="none" stroke="#f2b518" stroke-width="2.2" stroke-linecap="round"/>
<path d="M285.0,358.9 L284.3,361.0 L283.6,363.0 L282.9,364.8 L282.2,366.5" fill="none" stroke="#f2b518" stroke-width="2.2" stroke-linecap="round"/>
<path d="M282.2,366.5 L281.5,368.1 L280.8,369.6 L280.1,371.0" fill="none" stroke="#f2b518" stroke-width="2.2" stroke-linecap="round"/>
<path d="M280.1,371.0 L279.4,372.4 L278.7,373.8 L277.9,375.1 L277.2,376.5" fill="none" stroke="#f2b518" stroke-width="2.2" stroke-linecap="round"/>
<path d="M277.2,376.5 L276.5,377.9 L275.7,379.3 L275.0,380.7 L274.2,382.3" fill="none" stroke="#f2b518" stroke-width="2.2" stroke-linecap="round"/>
<path d="M274.2,382.3 L273.4,384.0 L272.5,385.8 L271.6,387.8 L270.7,389.8" fill="none" stroke="#f2b518" stroke-width="2.2" stroke-linecap="round"/>
<path d="M270.7,389.8 L269.8,391.8 L268.9,393.8 L268.0,395.8 L267.1,397.7" fill="none" stroke="#f2b518" stroke-width="2.2" stroke-linecap="round"/>
<path d="M275.5,235.0 L283.3,239.7 L278.7,241.1 L274.8,244.1Z" fill="#e8842c"/>
<path d="M264.6,403.2 L263.5,394.1 L267.5,396.9 L272.2,398.1Z" fill="#f2b518"/>
<path d="M292.8,236.8 L293.4,238.5 L294.1,240.2 L294.7,241.9" fill="none" stroke="#e7822c" stroke-width="2.2" stroke-linecap="round"/>
<path d="M294.7,241.9 L295.3,243.6 L295.9,245.2 L296.5,246.7" fill="none" stroke="#e6802c" stroke-width="2.2" stroke-linecap="round"/>
<path d="M296.5,246.7 L297.0,248.0 L297.5,249.2 L297.9,250.3 L298.3,251.3" fill="none" stroke="#e67f2c" stroke-width="2.2" stroke-linecap="round"/>
<path d="M298.3,251.3 L298.7,252.3 L299.0,253.3 L299.4,254.2" fill="none" stroke="#e57e2c" stroke-width="2.2" stroke-linecap="round"/>
<path d="M299.4,254.2 L299.8,255.1 L300.2,256.1 L300.6,257.0 L301.0,258.0" fill="none" stroke="#e57d2b" stroke-width="2.2" stroke-linecap="round"/>
<path d="M301.0,258.0 L301.5,259.0 L302.0,260.0 L302.5,261.1" fill="none" stroke="#e47c2b" stroke-width="2.2" stroke-linecap="round"/>
<path d="M302.5,261.1 L303.1,262.2 L303.7,263.3 L304.3,264.4 L304.9,265.5" fill="none" stroke="#e47b2b" stroke-width="2.2" stroke-linecap="round"/>
<path d="M304.9,265.5 L305.6,266.6 L306.2,267.8 L306.9,268.9" fill="none" stroke="#e37a2b" stroke-width="2.2" stroke-linecap="round"/>
<path d="M306.9,268.9 L307.6,270.1 L308.3,271.4 L309.0,272.6 L309.8,273.9" fill="none" stroke="#e3792b" stroke-width="2.2" stroke-linecap="round"/>
<path d="M309.8,273.9 L310.6,275.2 L311.4,276.6 L312.2,278.0" fill="none" stroke="#e2782b" stroke-width="2.2" stroke-linecap="round"/>
<path d="M312.2,278.0 L313.1,279.5 L314.0,280.9 L314.9,282.4 L315.8,283.9" fill="none" stroke="#e2762b" stroke-width="2.2" stroke-linecap="round"/>
<path d="M315.8,283.9 L316.7,285.4 L317.6,286.9 L318.5,288.4" fill="none" stroke="#e1752b" stroke-width="2.2" stroke-linecap="round"/>
<path d="M318.5,288.4 L319.4,289.9 L320.3,291.4 L321.2,292.9 L322.0,294.3" fill="none" stroke="#e0732b" stroke-width="2.2" stroke-linecap="round"/>
<path d="M322.0,294.3 L322.9,295.8 L323.8,297.2 L324.6,298.7" fill="none" stroke="#e0722b" stroke-width="2.2" stroke-linecap="round"/>
<path d="M324.6,298.7 L325.5,300.1 L326.4,301.6 L327.2,303.0 L328.1,304.5" fill="none" stroke="#df702a" stroke-width="2.2" stroke-linecap="round"/>
<path d="M328.1,304.5 L329.0,305.9 L329.8,307.4 L330.7,308.8" fill="none" stroke="#de6f2a" stroke-width="2.2" stroke-linecap="round"/>
<path d="M330.7,308.8 L331.6,310.2 L332.5,311.7 L333.3,313.1 L334.2,314.6" fill="none" stroke="#de6d2a" stroke-width="2.2" stroke-linecap="round"/>
<path d="M334.2,314.6 L335.1,316.0 L336.0,317.4 L336.9,318.9" fill="none" stroke="#dd6c2a" stroke-width="2.2" stroke-linecap="round"/>
<path d="M336.9,318.9 L337.7,320.3 L338.6,321.8 L339.5,323.2 L340.3,324.7" fill="none" stroke="#dc6b2a" stroke-width="2.2" stroke-linecap="round"/>
<path d="M340.3,324.7 L341.2,326.2 L342.0,327.7 L342.9,329.3" fill="none" stroke="#db682a" stroke-width="2.2" stroke-linecap="round"/>
<path d="M342.9,329.3 L343.7,330.8 L344.5,332.4 L345.3,334.0 L346.1,335.5" fill="none" stroke="#da642a" stroke-width="2.2" stroke-linecap="round"/>
<path d="M346.1,335.5 L346.9,337.1 L347.7,338.7 L348.6,340.3" fill="none" stroke="#d9602a" stroke-width="2.2" stroke-linecap="round"/>
<path d="M348.6,340.3 L349.4,341.8 L350.2,343.3 L351.1,344.8 L352.0,346.3" fill="none" stroke="#d85c2a" stroke-width="2.2" stroke-linecap="round"/>
<path d="M352.0,346.3 L352.8,347.7 L353.7,349.1 L354.6,350.5" fill="none" stroke="#d7582a" stroke-width="2.2" stroke-linecap="round"/>
<path d="M354.6,350.5 L355.5,351.9 L356.3,353.3 L357.3,354.6 L358.2,356.0" fill="none" stroke="#d6552a" stroke-width="2.2" stroke-linecap="round"/>
<path d="M358.2,356.0 L359.1,357.4 L360.1,358.7 L361.1,360.1" fill="none" stroke="#d4512a" stroke-width="2.2" stroke-linecap="round"/>
<path d="M361.1,360.1 L362.2,361.5 L363.3,362.9 L364.5,364.3 L365.6,365.7" fill="none" stroke="#d34d2a" stroke-width="2.2" stroke-linecap="round"/>
<path d="M365.6,365.7 L366.9,367.1 L368.1,368.5 L369.4,369.9" fill="none" stroke="#d2492a" stroke-width="2.2" stroke-linecap="round"/>
<path d="M369.4,369.9 L370.6,371.3 L371.9,372.7 L373.2,374.1 L374.5,375.4" fill="none" stroke="#d1452a" stroke-width="2.2" stroke-linecap="round"/>
<path d="M374.5,375.4 L375.8,376.8 L377.0,378.1 L378.2,379.4" fill="none" stroke="#d0412a" stroke-width="2.2" stroke-linecap="round"/>
<path d="M378.2,379.4 L379.5,380.7 L380.8,382.0 L382.0,383.3 L383.3,384.5" fill="none" stroke="#ce3d2a" stroke-width="2.2" stroke-linecap="round"/>
<path d="M383.3,384.5 L384.5,385.8 L385.8,387.0 L387.0,388.2" fill="none" stroke="#cd392a" stroke-width="2.2" stroke-linecap="round"/>
<path d="M387.0,388.2 L388.3,389.5 L389.5,390.7 L390.7,391.8 L391.9,393.0" fill="none" stroke="#cc362a" stroke-width="2.2" stroke-linecap="round"/>
<path d="M391.9,393.0 L393.1,394.2 L394.4,395.4 L395.6,396.7" fill="none" stroke="#cb322a" stroke-width="2.2" stroke-linecap="round"/>
<path d="M395.6,396.7 L396.9,397.9 L398.2,399.2 L399.5,400.4 L400.7,401.5" fill="none" stroke="#ca2e2a" stroke-width="2.2" stroke-linecap="round"/>
<path d="M290.5,230.5 L297.7,236.2 L292.9,237.0 L288.7,239.5Z" fill="#e8842c"/>
<path d="M405.2,405.9 L396.3,403.9 L400.2,401.1 L402.9,397.0Z" fill="#c8282a"/>
<path d="M243.9,245.2 L243.2,247.8" fill="none" stroke="#e8842c" stroke-width="2.2" stroke-linecap="round"/>
<path d="M243.2,247.8 L242.5,250.5" fill="none" stroke="#e8842c" stroke-width="2.2" stroke-linecap="round"/>
<path d="M242.5,250.5 L241.8,253.2" fill="none" stroke="#e8842c" stroke-width="2.2" stroke-linecap="round"/>
<path d="M241.8,253.2 L241.1,255.8" fill="none" stroke="#e8842c" stroke-width="2.2" stroke-linecap="round"/>
<path d="M246.0,237.5 L248.6,246.3 L244.2,244.2 L239.3,243.8Z" fill="#e8842c"/>
<path d="M239.0,263.5 L236.4,254.7 L240.8,256.8 L245.7,257.2Z" fill="#e8842c"/>
<path d="M329.0,432.3 L333.4,432.3" fill="none" stroke="#eea91a" stroke-width="2.2" stroke-linecap="round"/>
<path d="M333.4,432.3 L338.3,432.3" fill="none" stroke="#eda31a" stroke-width="2.2" stroke-linecap="round"/>
<path d="M338.3,432.3 L343.6,432.3" fill="none" stroke="#ea9c1b" stroke-width="2.2" stroke-linecap="round"/>
<path d="M343.6,432.3 L349.2,432.3" fill="none" stroke="#e8941c" stroke-width="2.2" stroke-linecap="round"/>
<path d="M349.2,432.3 L354.7,432.3" fill="none" stroke="#e68d1e" stroke-width="2.2" stroke-linecap="round"/>
<path d="M354.7,432.3 L360.0,432.3" fill="none" stroke="#e4851f" stroke-width="2.2" stroke-linecap="round"/>
<path d="M360.0,432.3 L364.9,432.3" fill="none" stroke="#e17e20" stroke-width="2.2" stroke-linecap="round"/>
<path d="M364.9,432.3 L369.3,432.3" fill="none" stroke="#e07820" stroke-width="2.2" stroke-linecap="round"/>
<path d="M322.6,432.3 L330.4,427.5 L329.5,432.3 L330.4,437.1Z" fill="#f2b518"/>
<path d="M375.7,432.3 L367.9,437.1 L368.8,432.3 L367.9,427.5Z" fill="#dc6c22"/>
<text x="285.5" y="75.0" text-anchor="middle" class="lb">Greenland</text>
<text x="285.4" y="91.4" text-anchor="middle" class="lb">Ice Sheet</text>
<text x="432.5" y="87.5" text-anchor="middle" class="lb">Arctic winter</text>
<text x="432.5" y="104.0" text-anchor="middle" class="lb">sea-ice</text>
<text x="362.0" y="118.4" text-anchor="middle" class="lb">Arctic summer</text>
<text x="362.8" y="134.6" text-anchor="middle" class="lb">sea-ice</text>
<text x="497.3" y="141.5" text-anchor="middle" class="lb">Permafrost</text>
<text x="397.7" y="161.0" text-anchor="middle" class="lb">Alpine</text>
<text x="398.0" y="177.5" text-anchor="middle" class="lb">glaciers</text>
<text x="229.7" y="140.5" text-anchor="middle" class="lb">Jet Stream</text>
<text x="124.4" y="140.2" text-anchor="middle" class="lb">Boreal</text>
<text x="125.0" y="156.4" text-anchor="middle" class="lb">forest</text>
<text x="254.8" y="205.5" text-anchor="middle" class="lb">Thermohaline</text>
<text x="253.9" y="222.0" text-anchor="middle" class="lb">circulation</text>
<text x="91.25" y="216.25" text-anchor="middle" class="lb">El Niño Southern</text>
<text x="90.9" y="232.5" text-anchor="middle" class="lb">Oscillation</text>
<text x="356.6" y="234.3" text-anchor="middle" class="lb">Sahel</text>
<text x="499.5" y="231.4" text-anchor="middle" class="lb">Indian summer</text>
<text x="499.4" y="246.8" text-anchor="middle" class="lb">monsoon</text>
<text x="237.0" y="285.9" text-anchor="middle" class="lb">Amazon</text>
<text x="237.5" y="302.7" text-anchor="middle" class="lb">rainforest</text>
<text x="618.0" y="295.7" text-anchor="middle" class="lb">Coral</text>
<text x="617.5" y="311.9" text-anchor="middle" class="lb">reefs</text>
<text x="242.7" y="427.9" text-anchor="middle" class="lb">West Antarctic</text>
<text x="242.9" y="443.9" text-anchor="middle" class="lb">Ice Sheet</text>
<text x="454.3" y="428.0" text-anchor="middle" class="lb">East Antarctic</text>
<text x="454.8" y="445.0" text-anchor="middle" class="lb">Ice Sheet</text>

<rect x="9.5" y="6.5" width="182" height="74" fill="#fff" stroke="#a6a6a6" stroke-width="1"/>
<text x="20.6" y="22.7" class="lg lt">Tipping elements at risk:</text>
<circle cx="27.7" cy="36.6" r="4.6" fill="#f8dc98" stroke="#f2b518" stroke-width="2"/>
<circle cx="27.7" cy="52.3" r="4.6" fill="#eebfa0" stroke="#e8842c" stroke-width="2"/>
<circle cx="27.7" cy="68.0" r="4.6" fill="#e0a0a0" stroke="#c8202a" stroke-width="2"/>
<text x="42.2" y="39.6" class="lg">1°C – 3°C</text>
<text x="42.2" y="55.4" class="lg">3°C – 5°C</text>
<text x="42.2" y="71.0" class="lg">&gt; 5°C</text>

</svg>
</body></html>
